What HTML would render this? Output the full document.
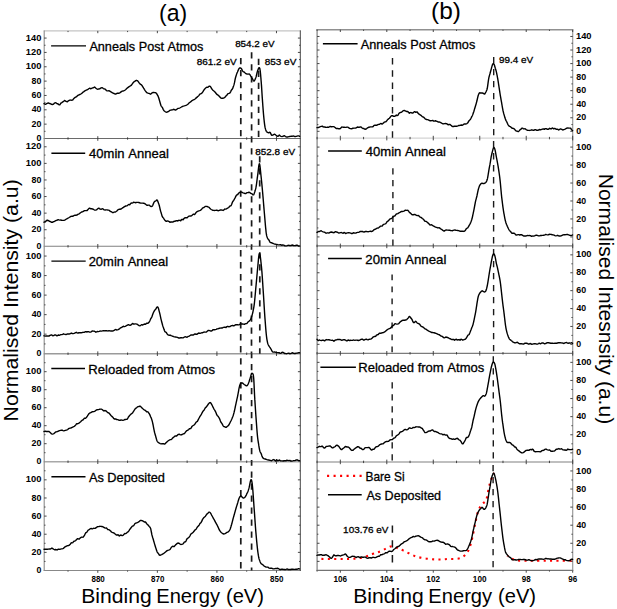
<!DOCTYPE html>
<html><head><meta charset="utf-8"><style>
html,body{margin:0;padding:0;background:#fff;}
body{width:617px;height:609px;overflow:hidden;font-family:"Liberation Sans", sans-serif;}
svg{display:block;}
</style></head><body>
<svg width="617" height="609" viewBox="0 0 617 609" font-family='"Liberation Sans", sans-serif' style="font-kerning:none"><line x1="43.7" y1="30.9" x2="300.7" y2="30.9" stroke="#c4c4c4" stroke-width="1.2" />
<line x1="43.7" y1="138.5" x2="300.7" y2="138.5" stroke="#6a6a6a" stroke-width="1.0" />
<line x1="43.7" y1="246.3" x2="300.7" y2="246.3" stroke="#808080" stroke-width="1.1" />
<line x1="43.7" y1="353.7" x2="300.7" y2="353.7" stroke="#9a9a9a" stroke-width="1.5" />
<line x1="43.7" y1="461.7" x2="300.7" y2="461.7" stroke="#a8a8a8" stroke-width="1.5" />
<line x1="43.7" y1="570.5" x2="300.7" y2="570.5" stroke="#888888" stroke-width="1.2" />
<line x1="44.2" y1="30.4" x2="44.2" y2="571" stroke="#8c8c8c" stroke-width="1.1" />
<line x1="300.3" y1="30.4" x2="300.3" y2="571" stroke="#3c3c3c" stroke-width="0.95" />
<line x1="316.6" y1="29.7" x2="573.2" y2="29.7" stroke="#909090" stroke-width="1.4" />
<line x1="316.6" y1="138.1" x2="573.2" y2="138.1" stroke="#c8c8c8" stroke-width="1.0" />
<line x1="316.6" y1="245.9" x2="573.2" y2="245.9" stroke="#7a7a7a" stroke-width="1.2" />
<line x1="316.6" y1="353.3" x2="573.2" y2="353.3" stroke="#5a5a5a" stroke-width="1.0" />
<line x1="316.6" y1="461.9" x2="573.2" y2="461.9" stroke="#aaaaaa" stroke-width="1.5" />
<line x1="316.6" y1="570.4" x2="573.2" y2="570.4" stroke="#737373" stroke-width="1.1" />
<line x1="317.1" y1="29.1" x2="317.1" y2="570.9" stroke="#888888" stroke-width="1.3" />
<line x1="572.7" y1="29.1" x2="572.7" y2="570.9" stroke="#999999" stroke-width="1.2" />
<line x1="44.2" y1="131.33" x2="45.5" y2="131.33" stroke="#333" stroke-width="0.9" />
<line x1="300.3" y1="131.33" x2="299" y2="131.33" stroke="#333" stroke-width="0.9" />
<line x1="44.2" y1="124.15" x2="46.6" y2="124.15" stroke="#333" stroke-width="0.9" />
<line x1="300.3" y1="124.15" x2="297.9" y2="124.15" stroke="#333" stroke-width="0.9" />
<line x1="44.2" y1="116.98" x2="45.5" y2="116.98" stroke="#333" stroke-width="0.9" />
<line x1="300.3" y1="116.98" x2="299" y2="116.98" stroke="#333" stroke-width="0.9" />
<line x1="44.2" y1="109.81" x2="46.6" y2="109.81" stroke="#333" stroke-width="0.9" />
<line x1="300.3" y1="109.81" x2="297.9" y2="109.81" stroke="#333" stroke-width="0.9" />
<line x1="44.2" y1="102.63" x2="45.5" y2="102.63" stroke="#333" stroke-width="0.9" />
<line x1="300.3" y1="102.63" x2="299" y2="102.63" stroke="#333" stroke-width="0.9" />
<line x1="44.2" y1="95.46" x2="46.6" y2="95.46" stroke="#333" stroke-width="0.9" />
<line x1="300.3" y1="95.46" x2="297.9" y2="95.46" stroke="#333" stroke-width="0.9" />
<line x1="44.2" y1="88.29" x2="45.5" y2="88.29" stroke="#333" stroke-width="0.9" />
<line x1="300.3" y1="88.29" x2="299" y2="88.29" stroke="#333" stroke-width="0.9" />
<line x1="44.2" y1="81.11" x2="46.6" y2="81.11" stroke="#333" stroke-width="0.9" />
<line x1="300.3" y1="81.11" x2="297.9" y2="81.11" stroke="#333" stroke-width="0.9" />
<line x1="44.2" y1="73.94" x2="45.5" y2="73.94" stroke="#333" stroke-width="0.9" />
<line x1="300.3" y1="73.94" x2="299" y2="73.94" stroke="#333" stroke-width="0.9" />
<line x1="44.2" y1="66.77" x2="46.6" y2="66.77" stroke="#333" stroke-width="0.9" />
<line x1="300.3" y1="66.77" x2="297.9" y2="66.77" stroke="#333" stroke-width="0.9" />
<line x1="44.2" y1="59.59" x2="45.5" y2="59.59" stroke="#333" stroke-width="0.9" />
<line x1="300.3" y1="59.59" x2="299" y2="59.59" stroke="#333" stroke-width="0.9" />
<line x1="44.2" y1="52.42" x2="46.6" y2="52.42" stroke="#333" stroke-width="0.9" />
<line x1="300.3" y1="52.42" x2="297.9" y2="52.42" stroke="#333" stroke-width="0.9" />
<line x1="44.2" y1="45.25" x2="45.5" y2="45.25" stroke="#333" stroke-width="0.9" />
<line x1="300.3" y1="45.25" x2="299" y2="45.25" stroke="#333" stroke-width="0.9" />
<line x1="44.2" y1="38.07" x2="46.6" y2="38.07" stroke="#333" stroke-width="0.9" />
<line x1="300.3" y1="38.07" x2="297.9" y2="38.07" stroke="#333" stroke-width="0.9" />
<text x="36.45" y="141.1" font-size="9.2" font-weight="bold" fill="#000" textLength="4.91" lengthAdjust="spacingAndGlyphs" >0</text>
<text x="31.49" y="126.75" font-size="9.2" font-weight="bold" fill="#000" textLength="9.87" lengthAdjust="spacingAndGlyphs" >20</text>
<text x="31.67" y="112.41" font-size="9.2" font-weight="bold" fill="#000" textLength="9.69" lengthAdjust="spacingAndGlyphs" >40</text>
<text x="31.47" y="98.06" font-size="9.2" font-weight="bold" fill="#000" textLength="9.89" lengthAdjust="spacingAndGlyphs" >60</text>
<text x="31.52" y="83.71" font-size="9.2" font-weight="bold" fill="#000" textLength="9.84" lengthAdjust="spacingAndGlyphs" >80</text>
<text x="25.81" y="69.37" font-size="9.2" font-weight="bold" fill="#000" textLength="15.57" lengthAdjust="spacingAndGlyphs" >100</text>
<text x="25.81" y="55.02" font-size="9.2" font-weight="bold" fill="#000" textLength="15.57" lengthAdjust="spacingAndGlyphs" >120</text>
<text x="25.81" y="40.67" font-size="9.2" font-weight="bold" fill="#000" textLength="15.57" lengthAdjust="spacingAndGlyphs" >140</text>
<line x1="44.2" y1="238.01" x2="45.5" y2="238.01" stroke="#333" stroke-width="0.9" />
<line x1="300.3" y1="238.01" x2="299" y2="238.01" stroke="#333" stroke-width="0.9" />
<line x1="44.2" y1="229.72" x2="46.6" y2="229.72" stroke="#333" stroke-width="0.9" />
<line x1="300.3" y1="229.72" x2="297.9" y2="229.72" stroke="#333" stroke-width="0.9" />
<line x1="44.2" y1="221.42" x2="45.5" y2="221.42" stroke="#333" stroke-width="0.9" />
<line x1="300.3" y1="221.42" x2="299" y2="221.42" stroke="#333" stroke-width="0.9" />
<line x1="44.2" y1="213.13" x2="46.6" y2="213.13" stroke="#333" stroke-width="0.9" />
<line x1="300.3" y1="213.13" x2="297.9" y2="213.13" stroke="#333" stroke-width="0.9" />
<line x1="44.2" y1="204.84" x2="45.5" y2="204.84" stroke="#333" stroke-width="0.9" />
<line x1="300.3" y1="204.84" x2="299" y2="204.84" stroke="#333" stroke-width="0.9" />
<line x1="44.2" y1="196.55" x2="46.6" y2="196.55" stroke="#333" stroke-width="0.9" />
<line x1="300.3" y1="196.55" x2="297.9" y2="196.55" stroke="#333" stroke-width="0.9" />
<line x1="44.2" y1="188.25" x2="45.5" y2="188.25" stroke="#333" stroke-width="0.9" />
<line x1="300.3" y1="188.25" x2="299" y2="188.25" stroke="#333" stroke-width="0.9" />
<line x1="44.2" y1="179.96" x2="46.6" y2="179.96" stroke="#333" stroke-width="0.9" />
<line x1="300.3" y1="179.96" x2="297.9" y2="179.96" stroke="#333" stroke-width="0.9" />
<line x1="44.2" y1="171.67" x2="45.5" y2="171.67" stroke="#333" stroke-width="0.9" />
<line x1="300.3" y1="171.67" x2="299" y2="171.67" stroke="#333" stroke-width="0.9" />
<line x1="44.2" y1="163.38" x2="46.6" y2="163.38" stroke="#333" stroke-width="0.9" />
<line x1="300.3" y1="163.38" x2="297.9" y2="163.38" stroke="#333" stroke-width="0.9" />
<line x1="44.2" y1="155.08" x2="45.5" y2="155.08" stroke="#333" stroke-width="0.9" />
<line x1="300.3" y1="155.08" x2="299" y2="155.08" stroke="#333" stroke-width="0.9" />
<line x1="44.2" y1="146.79" x2="46.6" y2="146.79" stroke="#333" stroke-width="0.9" />
<line x1="300.3" y1="146.79" x2="297.9" y2="146.79" stroke="#333" stroke-width="0.9" />
<text x="36.45" y="248.9" font-size="9.2" font-weight="bold" fill="#000" textLength="4.91" lengthAdjust="spacingAndGlyphs" >0</text>
<text x="31.49" y="232.32" font-size="9.2" font-weight="bold" fill="#000" textLength="9.87" lengthAdjust="spacingAndGlyphs" >20</text>
<text x="31.67" y="215.73" font-size="9.2" font-weight="bold" fill="#000" textLength="9.69" lengthAdjust="spacingAndGlyphs" >40</text>
<text x="31.47" y="199.15" font-size="9.2" font-weight="bold" fill="#000" textLength="9.89" lengthAdjust="spacingAndGlyphs" >60</text>
<text x="31.52" y="182.56" font-size="9.2" font-weight="bold" fill="#000" textLength="9.84" lengthAdjust="spacingAndGlyphs" >80</text>
<text x="25.81" y="165.98" font-size="9.2" font-weight="bold" fill="#000" textLength="15.57" lengthAdjust="spacingAndGlyphs" >100</text>
<text x="25.81" y="149.39" font-size="9.2" font-weight="bold" fill="#000" textLength="15.57" lengthAdjust="spacingAndGlyphs" >120</text>
<line x1="44.2" y1="343.94" x2="45.5" y2="343.94" stroke="#333" stroke-width="0.9" />
<line x1="300.3" y1="343.94" x2="299" y2="343.94" stroke="#333" stroke-width="0.9" />
<line x1="44.2" y1="334.17" x2="46.6" y2="334.17" stroke="#333" stroke-width="0.9" />
<line x1="300.3" y1="334.17" x2="297.9" y2="334.17" stroke="#333" stroke-width="0.9" />
<line x1="44.2" y1="324.41" x2="45.5" y2="324.41" stroke="#333" stroke-width="0.9" />
<line x1="300.3" y1="324.41" x2="299" y2="324.41" stroke="#333" stroke-width="0.9" />
<line x1="44.2" y1="314.65" x2="46.6" y2="314.65" stroke="#333" stroke-width="0.9" />
<line x1="300.3" y1="314.65" x2="297.9" y2="314.65" stroke="#333" stroke-width="0.9" />
<line x1="44.2" y1="304.88" x2="45.5" y2="304.88" stroke="#333" stroke-width="0.9" />
<line x1="300.3" y1="304.88" x2="299" y2="304.88" stroke="#333" stroke-width="0.9" />
<line x1="44.2" y1="295.12" x2="46.6" y2="295.12" stroke="#333" stroke-width="0.9" />
<line x1="300.3" y1="295.12" x2="297.9" y2="295.12" stroke="#333" stroke-width="0.9" />
<line x1="44.2" y1="285.35" x2="45.5" y2="285.35" stroke="#333" stroke-width="0.9" />
<line x1="300.3" y1="285.35" x2="299" y2="285.35" stroke="#333" stroke-width="0.9" />
<line x1="44.2" y1="275.59" x2="46.6" y2="275.59" stroke="#333" stroke-width="0.9" />
<line x1="300.3" y1="275.59" x2="297.9" y2="275.59" stroke="#333" stroke-width="0.9" />
<line x1="44.2" y1="265.83" x2="45.5" y2="265.83" stroke="#333" stroke-width="0.9" />
<line x1="300.3" y1="265.83" x2="299" y2="265.83" stroke="#333" stroke-width="0.9" />
<line x1="44.2" y1="256.06" x2="46.6" y2="256.06" stroke="#333" stroke-width="0.9" />
<line x1="300.3" y1="256.06" x2="297.9" y2="256.06" stroke="#333" stroke-width="0.9" />
<text x="36.45" y="356.3" font-size="9.2" font-weight="bold" fill="#000" textLength="4.91" lengthAdjust="spacingAndGlyphs" >0</text>
<text x="31.49" y="336.77" font-size="9.2" font-weight="bold" fill="#000" textLength="9.87" lengthAdjust="spacingAndGlyphs" >20</text>
<text x="31.67" y="317.25" font-size="9.2" font-weight="bold" fill="#000" textLength="9.69" lengthAdjust="spacingAndGlyphs" >40</text>
<text x="31.47" y="297.72" font-size="9.2" font-weight="bold" fill="#000" textLength="9.89" lengthAdjust="spacingAndGlyphs" >60</text>
<text x="31.52" y="278.19" font-size="9.2" font-weight="bold" fill="#000" textLength="9.84" lengthAdjust="spacingAndGlyphs" >80</text>
<text x="25.81" y="258.66" font-size="9.2" font-weight="bold" fill="#000" textLength="15.57" lengthAdjust="spacingAndGlyphs" >100</text>
<line x1="44.2" y1="452.7" x2="45.5" y2="452.7" stroke="#333" stroke-width="0.9" />
<line x1="300.3" y1="452.7" x2="299" y2="452.7" stroke="#333" stroke-width="0.9" />
<line x1="44.2" y1="443.7" x2="46.6" y2="443.7" stroke="#333" stroke-width="0.9" />
<line x1="300.3" y1="443.7" x2="297.9" y2="443.7" stroke="#333" stroke-width="0.9" />
<line x1="44.2" y1="434.7" x2="45.5" y2="434.7" stroke="#333" stroke-width="0.9" />
<line x1="300.3" y1="434.7" x2="299" y2="434.7" stroke="#333" stroke-width="0.9" />
<line x1="44.2" y1="425.7" x2="46.6" y2="425.7" stroke="#333" stroke-width="0.9" />
<line x1="300.3" y1="425.7" x2="297.9" y2="425.7" stroke="#333" stroke-width="0.9" />
<line x1="44.2" y1="416.7" x2="45.5" y2="416.7" stroke="#333" stroke-width="0.9" />
<line x1="300.3" y1="416.7" x2="299" y2="416.7" stroke="#333" stroke-width="0.9" />
<line x1="44.2" y1="407.7" x2="46.6" y2="407.7" stroke="#333" stroke-width="0.9" />
<line x1="300.3" y1="407.7" x2="297.9" y2="407.7" stroke="#333" stroke-width="0.9" />
<line x1="44.2" y1="398.7" x2="45.5" y2="398.7" stroke="#333" stroke-width="0.9" />
<line x1="300.3" y1="398.7" x2="299" y2="398.7" stroke="#333" stroke-width="0.9" />
<line x1="44.2" y1="389.7" x2="46.6" y2="389.7" stroke="#333" stroke-width="0.9" />
<line x1="300.3" y1="389.7" x2="297.9" y2="389.7" stroke="#333" stroke-width="0.9" />
<line x1="44.2" y1="380.7" x2="45.5" y2="380.7" stroke="#333" stroke-width="0.9" />
<line x1="300.3" y1="380.7" x2="299" y2="380.7" stroke="#333" stroke-width="0.9" />
<line x1="44.2" y1="371.7" x2="46.6" y2="371.7" stroke="#333" stroke-width="0.9" />
<line x1="300.3" y1="371.7" x2="297.9" y2="371.7" stroke="#333" stroke-width="0.9" />
<line x1="44.2" y1="362.7" x2="45.5" y2="362.7" stroke="#333" stroke-width="0.9" />
<line x1="300.3" y1="362.7" x2="299" y2="362.7" stroke="#333" stroke-width="0.9" />
<text x="36.45" y="464.3" font-size="9.2" font-weight="bold" fill="#000" textLength="4.91" lengthAdjust="spacingAndGlyphs" >0</text>
<text x="31.49" y="446.3" font-size="9.2" font-weight="bold" fill="#000" textLength="9.87" lengthAdjust="spacingAndGlyphs" >20</text>
<text x="31.67" y="428.3" font-size="9.2" font-weight="bold" fill="#000" textLength="9.69" lengthAdjust="spacingAndGlyphs" >40</text>
<text x="31.47" y="410.3" font-size="9.2" font-weight="bold" fill="#000" textLength="9.89" lengthAdjust="spacingAndGlyphs" >60</text>
<text x="31.52" y="392.3" font-size="9.2" font-weight="bold" fill="#000" textLength="9.84" lengthAdjust="spacingAndGlyphs" >80</text>
<text x="25.81" y="374.3" font-size="9.2" font-weight="bold" fill="#000" textLength="15.57" lengthAdjust="spacingAndGlyphs" >100</text>
<line x1="44.2" y1="561.43" x2="45.5" y2="561.43" stroke="#333" stroke-width="0.9" />
<line x1="300.3" y1="561.43" x2="299" y2="561.43" stroke="#333" stroke-width="0.9" />
<line x1="44.2" y1="552.37" x2="46.6" y2="552.37" stroke="#333" stroke-width="0.9" />
<line x1="300.3" y1="552.37" x2="297.9" y2="552.37" stroke="#333" stroke-width="0.9" />
<line x1="44.2" y1="543.3" x2="45.5" y2="543.3" stroke="#333" stroke-width="0.9" />
<line x1="300.3" y1="543.3" x2="299" y2="543.3" stroke="#333" stroke-width="0.9" />
<line x1="44.2" y1="534.23" x2="46.6" y2="534.23" stroke="#333" stroke-width="0.9" />
<line x1="300.3" y1="534.23" x2="297.9" y2="534.23" stroke="#333" stroke-width="0.9" />
<line x1="44.2" y1="525.17" x2="45.5" y2="525.17" stroke="#333" stroke-width="0.9" />
<line x1="300.3" y1="525.17" x2="299" y2="525.17" stroke="#333" stroke-width="0.9" />
<line x1="44.2" y1="516.1" x2="46.6" y2="516.1" stroke="#333" stroke-width="0.9" />
<line x1="300.3" y1="516.1" x2="297.9" y2="516.1" stroke="#333" stroke-width="0.9" />
<line x1="44.2" y1="507.03" x2="45.5" y2="507.03" stroke="#333" stroke-width="0.9" />
<line x1="300.3" y1="507.03" x2="299" y2="507.03" stroke="#333" stroke-width="0.9" />
<line x1="44.2" y1="497.97" x2="46.6" y2="497.97" stroke="#333" stroke-width="0.9" />
<line x1="300.3" y1="497.97" x2="297.9" y2="497.97" stroke="#333" stroke-width="0.9" />
<line x1="44.2" y1="488.9" x2="45.5" y2="488.9" stroke="#333" stroke-width="0.9" />
<line x1="300.3" y1="488.9" x2="299" y2="488.9" stroke="#333" stroke-width="0.9" />
<line x1="44.2" y1="479.83" x2="46.6" y2="479.83" stroke="#333" stroke-width="0.9" />
<line x1="300.3" y1="479.83" x2="297.9" y2="479.83" stroke="#333" stroke-width="0.9" />
<line x1="44.2" y1="470.77" x2="45.5" y2="470.77" stroke="#333" stroke-width="0.9" />
<line x1="300.3" y1="470.77" x2="299" y2="470.77" stroke="#333" stroke-width="0.9" />
<text x="36.45" y="573.1" font-size="9.2" font-weight="bold" fill="#000" textLength="4.91" lengthAdjust="spacingAndGlyphs" >0</text>
<text x="31.49" y="554.97" font-size="9.2" font-weight="bold" fill="#000" textLength="9.87" lengthAdjust="spacingAndGlyphs" >20</text>
<text x="31.67" y="536.83" font-size="9.2" font-weight="bold" fill="#000" textLength="9.69" lengthAdjust="spacingAndGlyphs" >40</text>
<text x="31.47" y="518.7" font-size="9.2" font-weight="bold" fill="#000" textLength="9.89" lengthAdjust="spacingAndGlyphs" >60</text>
<text x="31.52" y="500.57" font-size="9.2" font-weight="bold" fill="#000" textLength="9.84" lengthAdjust="spacingAndGlyphs" >80</text>
<text x="25.81" y="482.43" font-size="9.2" font-weight="bold" fill="#000" textLength="15.57" lengthAdjust="spacingAndGlyphs" >100</text>
<line x1="317.1" y1="131.32" x2="319.5" y2="131.32" stroke="#333" stroke-width="0.9" />
<line x1="572.7" y1="131.32" x2="570.3" y2="131.32" stroke="#333" stroke-width="0.9" />
<line x1="317.1" y1="124.55" x2="318.4" y2="124.55" stroke="#333" stroke-width="0.9" />
<line x1="572.7" y1="124.55" x2="571.4" y2="124.55" stroke="#333" stroke-width="0.9" />
<line x1="317.1" y1="117.78" x2="319.5" y2="117.78" stroke="#333" stroke-width="0.9" />
<line x1="572.7" y1="117.78" x2="570.3" y2="117.78" stroke="#333" stroke-width="0.9" />
<line x1="317.1" y1="111" x2="318.4" y2="111" stroke="#333" stroke-width="0.9" />
<line x1="572.7" y1="111" x2="571.4" y2="111" stroke="#333" stroke-width="0.9" />
<line x1="317.1" y1="104.22" x2="319.5" y2="104.22" stroke="#333" stroke-width="0.9" />
<line x1="572.7" y1="104.22" x2="570.3" y2="104.22" stroke="#333" stroke-width="0.9" />
<line x1="317.1" y1="97.45" x2="318.4" y2="97.45" stroke="#333" stroke-width="0.9" />
<line x1="572.7" y1="97.45" x2="571.4" y2="97.45" stroke="#333" stroke-width="0.9" />
<line x1="317.1" y1="90.67" x2="319.5" y2="90.67" stroke="#333" stroke-width="0.9" />
<line x1="572.7" y1="90.67" x2="570.3" y2="90.67" stroke="#333" stroke-width="0.9" />
<line x1="317.1" y1="83.9" x2="318.4" y2="83.9" stroke="#333" stroke-width="0.9" />
<line x1="572.7" y1="83.9" x2="571.4" y2="83.9" stroke="#333" stroke-width="0.9" />
<line x1="317.1" y1="77.12" x2="319.5" y2="77.12" stroke="#333" stroke-width="0.9" />
<line x1="572.7" y1="77.12" x2="570.3" y2="77.12" stroke="#333" stroke-width="0.9" />
<line x1="317.1" y1="70.35" x2="318.4" y2="70.35" stroke="#333" stroke-width="0.9" />
<line x1="572.7" y1="70.35" x2="571.4" y2="70.35" stroke="#333" stroke-width="0.9" />
<line x1="317.1" y1="63.58" x2="319.5" y2="63.58" stroke="#333" stroke-width="0.9" />
<line x1="572.7" y1="63.58" x2="570.3" y2="63.58" stroke="#333" stroke-width="0.9" />
<line x1="317.1" y1="56.8" x2="318.4" y2="56.8" stroke="#333" stroke-width="0.9" />
<line x1="572.7" y1="56.8" x2="571.4" y2="56.8" stroke="#333" stroke-width="0.9" />
<line x1="317.1" y1="50.03" x2="319.5" y2="50.03" stroke="#333" stroke-width="0.9" />
<line x1="572.7" y1="50.03" x2="570.3" y2="50.03" stroke="#333" stroke-width="0.9" />
<line x1="317.1" y1="43.25" x2="318.4" y2="43.25" stroke="#333" stroke-width="0.9" />
<line x1="572.7" y1="43.25" x2="571.4" y2="43.25" stroke="#333" stroke-width="0.9" />
<line x1="317.1" y1="36.48" x2="319.5" y2="36.48" stroke="#333" stroke-width="0.9" />
<line x1="572.7" y1="36.48" x2="570.3" y2="36.48" stroke="#333" stroke-width="0.9" />
<text x="576.25" y="133.92" font-size="9.2" font-weight="bold" fill="#000" textLength="4.91" lengthAdjust="spacingAndGlyphs" >0</text>
<text x="576.29" y="120.38" font-size="9.2" font-weight="bold" fill="#000" textLength="9.87" lengthAdjust="spacingAndGlyphs" >20</text>
<text x="576.47" y="106.82" font-size="9.2" font-weight="bold" fill="#000" textLength="9.69" lengthAdjust="spacingAndGlyphs" >40</text>
<text x="576.27" y="93.27" font-size="9.2" font-weight="bold" fill="#000" textLength="9.89" lengthAdjust="spacingAndGlyphs" >60</text>
<text x="576.32" y="79.72" font-size="9.2" font-weight="bold" fill="#000" textLength="9.84" lengthAdjust="spacingAndGlyphs" >80</text>
<text x="576.01" y="66.17" font-size="9.2" font-weight="bold" fill="#000" textLength="15.57" lengthAdjust="spacingAndGlyphs" >100</text>
<text x="576.01" y="52.63" font-size="9.2" font-weight="bold" fill="#000" textLength="15.57" lengthAdjust="spacingAndGlyphs" >120</text>
<text x="576.01" y="39.08" font-size="9.2" font-weight="bold" fill="#000" textLength="15.57" lengthAdjust="spacingAndGlyphs" >140</text>
<line x1="317.1" y1="236.92" x2="319.5" y2="236.92" stroke="#333" stroke-width="0.9" />
<line x1="572.7" y1="236.92" x2="570.3" y2="236.92" stroke="#333" stroke-width="0.9" />
<line x1="317.1" y1="227.93" x2="318.4" y2="227.93" stroke="#333" stroke-width="0.9" />
<line x1="572.7" y1="227.93" x2="571.4" y2="227.93" stroke="#333" stroke-width="0.9" />
<line x1="317.1" y1="218.95" x2="319.5" y2="218.95" stroke="#333" stroke-width="0.9" />
<line x1="572.7" y1="218.95" x2="570.3" y2="218.95" stroke="#333" stroke-width="0.9" />
<line x1="317.1" y1="209.97" x2="318.4" y2="209.97" stroke="#333" stroke-width="0.9" />
<line x1="572.7" y1="209.97" x2="571.4" y2="209.97" stroke="#333" stroke-width="0.9" />
<line x1="317.1" y1="200.98" x2="319.5" y2="200.98" stroke="#333" stroke-width="0.9" />
<line x1="572.7" y1="200.98" x2="570.3" y2="200.98" stroke="#333" stroke-width="0.9" />
<line x1="317.1" y1="192" x2="318.4" y2="192" stroke="#333" stroke-width="0.9" />
<line x1="572.7" y1="192" x2="571.4" y2="192" stroke="#333" stroke-width="0.9" />
<line x1="317.1" y1="183.02" x2="319.5" y2="183.02" stroke="#333" stroke-width="0.9" />
<line x1="572.7" y1="183.02" x2="570.3" y2="183.02" stroke="#333" stroke-width="0.9" />
<line x1="317.1" y1="174.03" x2="318.4" y2="174.03" stroke="#333" stroke-width="0.9" />
<line x1="572.7" y1="174.03" x2="571.4" y2="174.03" stroke="#333" stroke-width="0.9" />
<line x1="317.1" y1="165.05" x2="319.5" y2="165.05" stroke="#333" stroke-width="0.9" />
<line x1="572.7" y1="165.05" x2="570.3" y2="165.05" stroke="#333" stroke-width="0.9" />
<line x1="317.1" y1="156.07" x2="318.4" y2="156.07" stroke="#333" stroke-width="0.9" />
<line x1="572.7" y1="156.07" x2="571.4" y2="156.07" stroke="#333" stroke-width="0.9" />
<line x1="317.1" y1="147.08" x2="319.5" y2="147.08" stroke="#333" stroke-width="0.9" />
<line x1="572.7" y1="147.08" x2="570.3" y2="147.08" stroke="#333" stroke-width="0.9" />
<text x="576.25" y="239.52" font-size="9.2" font-weight="bold" fill="#000" textLength="4.91" lengthAdjust="spacingAndGlyphs" >0</text>
<text x="576.29" y="221.55" font-size="9.2" font-weight="bold" fill="#000" textLength="9.87" lengthAdjust="spacingAndGlyphs" >20</text>
<text x="576.47" y="203.58" font-size="9.2" font-weight="bold" fill="#000" textLength="9.69" lengthAdjust="spacingAndGlyphs" >40</text>
<text x="576.27" y="185.62" font-size="9.2" font-weight="bold" fill="#000" textLength="9.89" lengthAdjust="spacingAndGlyphs" >60</text>
<text x="576.32" y="167.65" font-size="9.2" font-weight="bold" fill="#000" textLength="9.84" lengthAdjust="spacingAndGlyphs" >80</text>
<text x="576.01" y="149.68" font-size="9.2" font-weight="bold" fill="#000" textLength="15.57" lengthAdjust="spacingAndGlyphs" >100</text>
<line x1="317.1" y1="344.35" x2="319.5" y2="344.35" stroke="#333" stroke-width="0.9" />
<line x1="572.7" y1="344.35" x2="570.3" y2="344.35" stroke="#333" stroke-width="0.9" />
<line x1="317.1" y1="335.4" x2="318.4" y2="335.4" stroke="#333" stroke-width="0.9" />
<line x1="572.7" y1="335.4" x2="571.4" y2="335.4" stroke="#333" stroke-width="0.9" />
<line x1="317.1" y1="326.45" x2="319.5" y2="326.45" stroke="#333" stroke-width="0.9" />
<line x1="572.7" y1="326.45" x2="570.3" y2="326.45" stroke="#333" stroke-width="0.9" />
<line x1="317.1" y1="317.5" x2="318.4" y2="317.5" stroke="#333" stroke-width="0.9" />
<line x1="572.7" y1="317.5" x2="571.4" y2="317.5" stroke="#333" stroke-width="0.9" />
<line x1="317.1" y1="308.55" x2="319.5" y2="308.55" stroke="#333" stroke-width="0.9" />
<line x1="572.7" y1="308.55" x2="570.3" y2="308.55" stroke="#333" stroke-width="0.9" />
<line x1="317.1" y1="299.6" x2="318.4" y2="299.6" stroke="#333" stroke-width="0.9" />
<line x1="572.7" y1="299.6" x2="571.4" y2="299.6" stroke="#333" stroke-width="0.9" />
<line x1="317.1" y1="290.65" x2="319.5" y2="290.65" stroke="#333" stroke-width="0.9" />
<line x1="572.7" y1="290.65" x2="570.3" y2="290.65" stroke="#333" stroke-width="0.9" />
<line x1="317.1" y1="281.7" x2="318.4" y2="281.7" stroke="#333" stroke-width="0.9" />
<line x1="572.7" y1="281.7" x2="571.4" y2="281.7" stroke="#333" stroke-width="0.9" />
<line x1="317.1" y1="272.75" x2="319.5" y2="272.75" stroke="#333" stroke-width="0.9" />
<line x1="572.7" y1="272.75" x2="570.3" y2="272.75" stroke="#333" stroke-width="0.9" />
<line x1="317.1" y1="263.8" x2="318.4" y2="263.8" stroke="#333" stroke-width="0.9" />
<line x1="572.7" y1="263.8" x2="571.4" y2="263.8" stroke="#333" stroke-width="0.9" />
<line x1="317.1" y1="254.85" x2="319.5" y2="254.85" stroke="#333" stroke-width="0.9" />
<line x1="572.7" y1="254.85" x2="570.3" y2="254.85" stroke="#333" stroke-width="0.9" />
<text x="576.25" y="346.95" font-size="9.2" font-weight="bold" fill="#000" textLength="4.91" lengthAdjust="spacingAndGlyphs" >0</text>
<text x="576.29" y="329.05" font-size="9.2" font-weight="bold" fill="#000" textLength="9.87" lengthAdjust="spacingAndGlyphs" >20</text>
<text x="576.47" y="311.15" font-size="9.2" font-weight="bold" fill="#000" textLength="9.69" lengthAdjust="spacingAndGlyphs" >40</text>
<text x="576.27" y="293.25" font-size="9.2" font-weight="bold" fill="#000" textLength="9.89" lengthAdjust="spacingAndGlyphs" >60</text>
<text x="576.32" y="275.35" font-size="9.2" font-weight="bold" fill="#000" textLength="9.84" lengthAdjust="spacingAndGlyphs" >80</text>
<text x="576.01" y="257.45" font-size="9.2" font-weight="bold" fill="#000" textLength="15.57" lengthAdjust="spacingAndGlyphs" >100</text>
<line x1="317.1" y1="452.85" x2="319.5" y2="452.85" stroke="#333" stroke-width="0.9" />
<line x1="572.7" y1="452.85" x2="570.3" y2="452.85" stroke="#333" stroke-width="0.9" />
<line x1="317.1" y1="443.8" x2="318.4" y2="443.8" stroke="#333" stroke-width="0.9" />
<line x1="572.7" y1="443.8" x2="571.4" y2="443.8" stroke="#333" stroke-width="0.9" />
<line x1="317.1" y1="434.75" x2="319.5" y2="434.75" stroke="#333" stroke-width="0.9" />
<line x1="572.7" y1="434.75" x2="570.3" y2="434.75" stroke="#333" stroke-width="0.9" />
<line x1="317.1" y1="425.7" x2="318.4" y2="425.7" stroke="#333" stroke-width="0.9" />
<line x1="572.7" y1="425.7" x2="571.4" y2="425.7" stroke="#333" stroke-width="0.9" />
<line x1="317.1" y1="416.65" x2="319.5" y2="416.65" stroke="#333" stroke-width="0.9" />
<line x1="572.7" y1="416.65" x2="570.3" y2="416.65" stroke="#333" stroke-width="0.9" />
<line x1="317.1" y1="407.6" x2="318.4" y2="407.6" stroke="#333" stroke-width="0.9" />
<line x1="572.7" y1="407.6" x2="571.4" y2="407.6" stroke="#333" stroke-width="0.9" />
<line x1="317.1" y1="398.55" x2="319.5" y2="398.55" stroke="#333" stroke-width="0.9" />
<line x1="572.7" y1="398.55" x2="570.3" y2="398.55" stroke="#333" stroke-width="0.9" />
<line x1="317.1" y1="389.5" x2="318.4" y2="389.5" stroke="#333" stroke-width="0.9" />
<line x1="572.7" y1="389.5" x2="571.4" y2="389.5" stroke="#333" stroke-width="0.9" />
<line x1="317.1" y1="380.45" x2="319.5" y2="380.45" stroke="#333" stroke-width="0.9" />
<line x1="572.7" y1="380.45" x2="570.3" y2="380.45" stroke="#333" stroke-width="0.9" />
<line x1="317.1" y1="371.4" x2="318.4" y2="371.4" stroke="#333" stroke-width="0.9" />
<line x1="572.7" y1="371.4" x2="571.4" y2="371.4" stroke="#333" stroke-width="0.9" />
<line x1="317.1" y1="362.35" x2="319.5" y2="362.35" stroke="#333" stroke-width="0.9" />
<line x1="572.7" y1="362.35" x2="570.3" y2="362.35" stroke="#333" stroke-width="0.9" />
<text x="576.25" y="455.45" font-size="9.2" font-weight="bold" fill="#000" textLength="4.91" lengthAdjust="spacingAndGlyphs" >0</text>
<text x="576.29" y="437.35" font-size="9.2" font-weight="bold" fill="#000" textLength="9.87" lengthAdjust="spacingAndGlyphs" >20</text>
<text x="576.47" y="419.25" font-size="9.2" font-weight="bold" fill="#000" textLength="9.69" lengthAdjust="spacingAndGlyphs" >40</text>
<text x="576.27" y="401.15" font-size="9.2" font-weight="bold" fill="#000" textLength="9.89" lengthAdjust="spacingAndGlyphs" >60</text>
<text x="576.32" y="383.05" font-size="9.2" font-weight="bold" fill="#000" textLength="9.84" lengthAdjust="spacingAndGlyphs" >80</text>
<text x="576.01" y="364.95" font-size="9.2" font-weight="bold" fill="#000" textLength="15.57" lengthAdjust="spacingAndGlyphs" >100</text>
<line x1="317.1" y1="561.36" x2="319.5" y2="561.36" stroke="#333" stroke-width="0.9" />
<line x1="572.7" y1="561.36" x2="570.3" y2="561.36" stroke="#333" stroke-width="0.9" />
<line x1="317.1" y1="552.32" x2="318.4" y2="552.32" stroke="#333" stroke-width="0.9" />
<line x1="572.7" y1="552.32" x2="571.4" y2="552.32" stroke="#333" stroke-width="0.9" />
<line x1="317.1" y1="543.27" x2="319.5" y2="543.27" stroke="#333" stroke-width="0.9" />
<line x1="572.7" y1="543.27" x2="570.3" y2="543.27" stroke="#333" stroke-width="0.9" />
<line x1="317.1" y1="534.23" x2="318.4" y2="534.23" stroke="#333" stroke-width="0.9" />
<line x1="572.7" y1="534.23" x2="571.4" y2="534.23" stroke="#333" stroke-width="0.9" />
<line x1="317.1" y1="525.19" x2="319.5" y2="525.19" stroke="#333" stroke-width="0.9" />
<line x1="572.7" y1="525.19" x2="570.3" y2="525.19" stroke="#333" stroke-width="0.9" />
<line x1="317.1" y1="516.15" x2="318.4" y2="516.15" stroke="#333" stroke-width="0.9" />
<line x1="572.7" y1="516.15" x2="571.4" y2="516.15" stroke="#333" stroke-width="0.9" />
<line x1="317.1" y1="507.11" x2="319.5" y2="507.11" stroke="#333" stroke-width="0.9" />
<line x1="572.7" y1="507.11" x2="570.3" y2="507.11" stroke="#333" stroke-width="0.9" />
<line x1="317.1" y1="498.07" x2="318.4" y2="498.07" stroke="#333" stroke-width="0.9" />
<line x1="572.7" y1="498.07" x2="571.4" y2="498.07" stroke="#333" stroke-width="0.9" />
<line x1="317.1" y1="489.02" x2="319.5" y2="489.02" stroke="#333" stroke-width="0.9" />
<line x1="572.7" y1="489.02" x2="570.3" y2="489.02" stroke="#333" stroke-width="0.9" />
<line x1="317.1" y1="479.98" x2="318.4" y2="479.98" stroke="#333" stroke-width="0.9" />
<line x1="572.7" y1="479.98" x2="571.4" y2="479.98" stroke="#333" stroke-width="0.9" />
<line x1="317.1" y1="470.94" x2="319.5" y2="470.94" stroke="#333" stroke-width="0.9" />
<line x1="572.7" y1="470.94" x2="570.3" y2="470.94" stroke="#333" stroke-width="0.9" />
<text x="576.25" y="563.96" font-size="9.2" font-weight="bold" fill="#000" textLength="4.91" lengthAdjust="spacingAndGlyphs" >0</text>
<text x="576.29" y="545.88" font-size="9.2" font-weight="bold" fill="#000" textLength="9.87" lengthAdjust="spacingAndGlyphs" >20</text>
<text x="576.47" y="527.79" font-size="9.2" font-weight="bold" fill="#000" textLength="9.69" lengthAdjust="spacingAndGlyphs" >40</text>
<text x="576.27" y="509.71" font-size="9.2" font-weight="bold" fill="#000" textLength="9.89" lengthAdjust="spacingAndGlyphs" >60</text>
<text x="576.32" y="491.62" font-size="9.2" font-weight="bold" fill="#000" textLength="9.84" lengthAdjust="spacingAndGlyphs" >80</text>
<text x="576.01" y="473.54" font-size="9.2" font-weight="bold" fill="#000" textLength="15.57" lengthAdjust="spacingAndGlyphs" >100</text>
<line x1="68.02" y1="30.9" x2="68.02" y2="32.1" stroke="#333" stroke-width="0.9" />
<line x1="68.02" y1="137.3" x2="68.02" y2="139.7" stroke="#333" stroke-width="0.9" />
<line x1="68.02" y1="245.1" x2="68.02" y2="247.5" stroke="#333" stroke-width="0.9" />
<line x1="68.02" y1="352.5" x2="68.02" y2="354.9" stroke="#333" stroke-width="0.9" />
<line x1="68.02" y1="460.5" x2="68.02" y2="462.9" stroke="#333" stroke-width="0.9" />
<line x1="68.02" y1="570.5" x2="68.02" y2="571.7" stroke="#333" stroke-width="0.9" />
<line x1="97.8" y1="30.9" x2="97.8" y2="33.2" stroke="#333" stroke-width="0.9" />
<line x1="97.8" y1="136.2" x2="97.8" y2="140.8" stroke="#333" stroke-width="0.9" />
<line x1="97.8" y1="244" x2="97.8" y2="248.6" stroke="#333" stroke-width="0.9" />
<line x1="97.8" y1="351.4" x2="97.8" y2="356" stroke="#333" stroke-width="0.9" />
<line x1="97.8" y1="459.4" x2="97.8" y2="464" stroke="#333" stroke-width="0.9" />
<line x1="97.8" y1="570.5" x2="97.8" y2="572.8" stroke="#333" stroke-width="0.9" />
<line x1="127.58" y1="30.9" x2="127.58" y2="32.1" stroke="#333" stroke-width="0.9" />
<line x1="127.58" y1="137.3" x2="127.58" y2="139.7" stroke="#333" stroke-width="0.9" />
<line x1="127.58" y1="245.1" x2="127.58" y2="247.5" stroke="#333" stroke-width="0.9" />
<line x1="127.58" y1="352.5" x2="127.58" y2="354.9" stroke="#333" stroke-width="0.9" />
<line x1="127.58" y1="460.5" x2="127.58" y2="462.9" stroke="#333" stroke-width="0.9" />
<line x1="127.58" y1="570.5" x2="127.58" y2="571.7" stroke="#333" stroke-width="0.9" />
<line x1="157.36" y1="30.9" x2="157.36" y2="33.2" stroke="#333" stroke-width="0.9" />
<line x1="157.36" y1="136.2" x2="157.36" y2="140.8" stroke="#333" stroke-width="0.9" />
<line x1="157.36" y1="244" x2="157.36" y2="248.6" stroke="#333" stroke-width="0.9" />
<line x1="157.36" y1="351.4" x2="157.36" y2="356" stroke="#333" stroke-width="0.9" />
<line x1="157.36" y1="459.4" x2="157.36" y2="464" stroke="#333" stroke-width="0.9" />
<line x1="157.36" y1="570.5" x2="157.36" y2="572.8" stroke="#333" stroke-width="0.9" />
<line x1="187.14" y1="30.9" x2="187.14" y2="32.1" stroke="#333" stroke-width="0.9" />
<line x1="187.14" y1="137.3" x2="187.14" y2="139.7" stroke="#333" stroke-width="0.9" />
<line x1="187.14" y1="245.1" x2="187.14" y2="247.5" stroke="#333" stroke-width="0.9" />
<line x1="187.14" y1="352.5" x2="187.14" y2="354.9" stroke="#333" stroke-width="0.9" />
<line x1="187.14" y1="460.5" x2="187.14" y2="462.9" stroke="#333" stroke-width="0.9" />
<line x1="187.14" y1="570.5" x2="187.14" y2="571.7" stroke="#333" stroke-width="0.9" />
<line x1="216.92" y1="30.9" x2="216.92" y2="33.2" stroke="#333" stroke-width="0.9" />
<line x1="216.92" y1="136.2" x2="216.92" y2="140.8" stroke="#333" stroke-width="0.9" />
<line x1="216.92" y1="244" x2="216.92" y2="248.6" stroke="#333" stroke-width="0.9" />
<line x1="216.92" y1="351.4" x2="216.92" y2="356" stroke="#333" stroke-width="0.9" />
<line x1="216.92" y1="459.4" x2="216.92" y2="464" stroke="#333" stroke-width="0.9" />
<line x1="216.92" y1="570.5" x2="216.92" y2="572.8" stroke="#333" stroke-width="0.9" />
<line x1="246.7" y1="30.9" x2="246.7" y2="32.1" stroke="#333" stroke-width="0.9" />
<line x1="246.7" y1="137.3" x2="246.7" y2="139.7" stroke="#333" stroke-width="0.9" />
<line x1="246.7" y1="245.1" x2="246.7" y2="247.5" stroke="#333" stroke-width="0.9" />
<line x1="246.7" y1="352.5" x2="246.7" y2="354.9" stroke="#333" stroke-width="0.9" />
<line x1="246.7" y1="460.5" x2="246.7" y2="462.9" stroke="#333" stroke-width="0.9" />
<line x1="246.7" y1="570.5" x2="246.7" y2="571.7" stroke="#333" stroke-width="0.9" />
<line x1="276.48" y1="30.9" x2="276.48" y2="33.2" stroke="#333" stroke-width="0.9" />
<line x1="276.48" y1="136.2" x2="276.48" y2="140.8" stroke="#333" stroke-width="0.9" />
<line x1="276.48" y1="244" x2="276.48" y2="248.6" stroke="#333" stroke-width="0.9" />
<line x1="276.48" y1="351.4" x2="276.48" y2="356" stroke="#333" stroke-width="0.9" />
<line x1="276.48" y1="459.4" x2="276.48" y2="464" stroke="#333" stroke-width="0.9" />
<line x1="276.48" y1="570.5" x2="276.48" y2="572.8" stroke="#333" stroke-width="0.9" />
<line x1="317.1" y1="29.7" x2="317.1" y2="30.9" stroke="#333" stroke-width="0.9" />
<line x1="317.1" y1="136.9" x2="317.1" y2="139.3" stroke="#333" stroke-width="0.9" />
<line x1="317.1" y1="244.7" x2="317.1" y2="247.1" stroke="#333" stroke-width="0.9" />
<line x1="317.1" y1="352.1" x2="317.1" y2="354.5" stroke="#333" stroke-width="0.9" />
<line x1="317.1" y1="460.7" x2="317.1" y2="463.1" stroke="#333" stroke-width="0.9" />
<line x1="317.1" y1="570.4" x2="317.1" y2="571.6" stroke="#333" stroke-width="0.9" />
<line x1="340.34" y1="29.7" x2="340.34" y2="32" stroke="#333" stroke-width="0.9" />
<line x1="340.34" y1="135.8" x2="340.34" y2="140.4" stroke="#333" stroke-width="0.9" />
<line x1="340.34" y1="243.6" x2="340.34" y2="248.2" stroke="#333" stroke-width="0.9" />
<line x1="340.34" y1="351" x2="340.34" y2="355.6" stroke="#333" stroke-width="0.9" />
<line x1="340.34" y1="459.6" x2="340.34" y2="464.2" stroke="#333" stroke-width="0.9" />
<line x1="340.34" y1="570.4" x2="340.34" y2="572.7" stroke="#333" stroke-width="0.9" />
<line x1="363.57" y1="29.7" x2="363.57" y2="30.9" stroke="#333" stroke-width="0.9" />
<line x1="363.57" y1="136.9" x2="363.57" y2="139.3" stroke="#333" stroke-width="0.9" />
<line x1="363.57" y1="244.7" x2="363.57" y2="247.1" stroke="#333" stroke-width="0.9" />
<line x1="363.57" y1="352.1" x2="363.57" y2="354.5" stroke="#333" stroke-width="0.9" />
<line x1="363.57" y1="460.7" x2="363.57" y2="463.1" stroke="#333" stroke-width="0.9" />
<line x1="363.57" y1="570.4" x2="363.57" y2="571.6" stroke="#333" stroke-width="0.9" />
<line x1="386.81" y1="29.7" x2="386.81" y2="32" stroke="#333" stroke-width="0.9" />
<line x1="386.81" y1="135.8" x2="386.81" y2="140.4" stroke="#333" stroke-width="0.9" />
<line x1="386.81" y1="243.6" x2="386.81" y2="248.2" stroke="#333" stroke-width="0.9" />
<line x1="386.81" y1="351" x2="386.81" y2="355.6" stroke="#333" stroke-width="0.9" />
<line x1="386.81" y1="459.6" x2="386.81" y2="464.2" stroke="#333" stroke-width="0.9" />
<line x1="386.81" y1="570.4" x2="386.81" y2="572.7" stroke="#333" stroke-width="0.9" />
<line x1="410.05" y1="29.7" x2="410.05" y2="30.9" stroke="#333" stroke-width="0.9" />
<line x1="410.05" y1="136.9" x2="410.05" y2="139.3" stroke="#333" stroke-width="0.9" />
<line x1="410.05" y1="244.7" x2="410.05" y2="247.1" stroke="#333" stroke-width="0.9" />
<line x1="410.05" y1="352.1" x2="410.05" y2="354.5" stroke="#333" stroke-width="0.9" />
<line x1="410.05" y1="460.7" x2="410.05" y2="463.1" stroke="#333" stroke-width="0.9" />
<line x1="410.05" y1="570.4" x2="410.05" y2="571.6" stroke="#333" stroke-width="0.9" />
<line x1="433.28" y1="29.7" x2="433.28" y2="32" stroke="#333" stroke-width="0.9" />
<line x1="433.28" y1="135.8" x2="433.28" y2="140.4" stroke="#333" stroke-width="0.9" />
<line x1="433.28" y1="243.6" x2="433.28" y2="248.2" stroke="#333" stroke-width="0.9" />
<line x1="433.28" y1="351" x2="433.28" y2="355.6" stroke="#333" stroke-width="0.9" />
<line x1="433.28" y1="459.6" x2="433.28" y2="464.2" stroke="#333" stroke-width="0.9" />
<line x1="433.28" y1="570.4" x2="433.28" y2="572.7" stroke="#333" stroke-width="0.9" />
<line x1="456.52" y1="29.7" x2="456.52" y2="30.9" stroke="#333" stroke-width="0.9" />
<line x1="456.52" y1="136.9" x2="456.52" y2="139.3" stroke="#333" stroke-width="0.9" />
<line x1="456.52" y1="244.7" x2="456.52" y2="247.1" stroke="#333" stroke-width="0.9" />
<line x1="456.52" y1="352.1" x2="456.52" y2="354.5" stroke="#333" stroke-width="0.9" />
<line x1="456.52" y1="460.7" x2="456.52" y2="463.1" stroke="#333" stroke-width="0.9" />
<line x1="456.52" y1="570.4" x2="456.52" y2="571.6" stroke="#333" stroke-width="0.9" />
<line x1="479.75" y1="29.7" x2="479.75" y2="32" stroke="#333" stroke-width="0.9" />
<line x1="479.75" y1="135.8" x2="479.75" y2="140.4" stroke="#333" stroke-width="0.9" />
<line x1="479.75" y1="243.6" x2="479.75" y2="248.2" stroke="#333" stroke-width="0.9" />
<line x1="479.75" y1="351" x2="479.75" y2="355.6" stroke="#333" stroke-width="0.9" />
<line x1="479.75" y1="459.6" x2="479.75" y2="464.2" stroke="#333" stroke-width="0.9" />
<line x1="479.75" y1="570.4" x2="479.75" y2="572.7" stroke="#333" stroke-width="0.9" />
<line x1="502.99" y1="29.7" x2="502.99" y2="30.9" stroke="#333" stroke-width="0.9" />
<line x1="502.99" y1="136.9" x2="502.99" y2="139.3" stroke="#333" stroke-width="0.9" />
<line x1="502.99" y1="244.7" x2="502.99" y2="247.1" stroke="#333" stroke-width="0.9" />
<line x1="502.99" y1="352.1" x2="502.99" y2="354.5" stroke="#333" stroke-width="0.9" />
<line x1="502.99" y1="460.7" x2="502.99" y2="463.1" stroke="#333" stroke-width="0.9" />
<line x1="502.99" y1="570.4" x2="502.99" y2="571.6" stroke="#333" stroke-width="0.9" />
<line x1="526.23" y1="29.7" x2="526.23" y2="32" stroke="#333" stroke-width="0.9" />
<line x1="526.23" y1="135.8" x2="526.23" y2="140.4" stroke="#333" stroke-width="0.9" />
<line x1="526.23" y1="243.6" x2="526.23" y2="248.2" stroke="#333" stroke-width="0.9" />
<line x1="526.23" y1="351" x2="526.23" y2="355.6" stroke="#333" stroke-width="0.9" />
<line x1="526.23" y1="459.6" x2="526.23" y2="464.2" stroke="#333" stroke-width="0.9" />
<line x1="526.23" y1="570.4" x2="526.23" y2="572.7" stroke="#333" stroke-width="0.9" />
<line x1="549.46" y1="29.7" x2="549.46" y2="30.9" stroke="#333" stroke-width="0.9" />
<line x1="549.46" y1="136.9" x2="549.46" y2="139.3" stroke="#333" stroke-width="0.9" />
<line x1="549.46" y1="244.7" x2="549.46" y2="247.1" stroke="#333" stroke-width="0.9" />
<line x1="549.46" y1="352.1" x2="549.46" y2="354.5" stroke="#333" stroke-width="0.9" />
<line x1="549.46" y1="460.7" x2="549.46" y2="463.1" stroke="#333" stroke-width="0.9" />
<line x1="549.46" y1="570.4" x2="549.46" y2="571.6" stroke="#333" stroke-width="0.9" />
<line x1="572.7" y1="29.7" x2="572.7" y2="32" stroke="#333" stroke-width="0.9" />
<line x1="572.7" y1="135.8" x2="572.7" y2="140.4" stroke="#333" stroke-width="0.9" />
<line x1="572.7" y1="243.6" x2="572.7" y2="248.2" stroke="#333" stroke-width="0.9" />
<line x1="572.7" y1="351" x2="572.7" y2="355.6" stroke="#333" stroke-width="0.9" />
<line x1="572.7" y1="459.6" x2="572.7" y2="464.2" stroke="#333" stroke-width="0.9" />
<line x1="572.7" y1="570.4" x2="572.7" y2="572.7" stroke="#333" stroke-width="0.9" />
<text x="91.45" y="581.9" font-size="8.5" font-weight="bold" fill="#000" textLength="13.38" lengthAdjust="spacingAndGlyphs" >880</text>
<text x="151.01" y="581.9" font-size="8.5" font-weight="bold" fill="#000" textLength="13.38" lengthAdjust="spacingAndGlyphs" >870</text>
<text x="210.56" y="581.9" font-size="8.5" font-weight="bold" fill="#000" textLength="13.38" lengthAdjust="spacingAndGlyphs" >860</text>
<text x="270.12" y="581.9" font-size="8.5" font-weight="bold" fill="#000" textLength="13.38" lengthAdjust="spacingAndGlyphs" >850</text>
<text x="333.42" y="581.9" font-size="8.5" font-weight="bold" fill="#000" textLength="13.61" lengthAdjust="spacingAndGlyphs" >106</text>
<text x="379.91" y="581.9" font-size="8.5" font-weight="bold" fill="#000" textLength="13.35" lengthAdjust="spacingAndGlyphs" >104</text>
<text x="426.37" y="581.9" font-size="8.5" font-weight="bold" fill="#000" textLength="13.64" lengthAdjust="spacingAndGlyphs" >102</text>
<text x="472.84" y="581.9" font-size="8.5" font-weight="bold" fill="#000" textLength="13.65" lengthAdjust="spacingAndGlyphs" >100</text>
<text x="521.75" y="581.9" font-size="8.5" font-weight="bold" fill="#000" textLength="8.93" lengthAdjust="spacingAndGlyphs" >98</text>
<text x="568.22" y="581.9" font-size="8.5" font-weight="bold" fill="#000" textLength="8.97" lengthAdjust="spacingAndGlyphs" >96</text>
<line x1="240.8" y1="57.9" x2="240.8" y2="138.5" stroke="#1a1a1a" stroke-width="1.7" stroke-dasharray="6.3 5.7" stroke-dashoffset="0"/>
<line x1="251.6" y1="52.3" x2="251.6" y2="138.5" stroke="#1a1a1a" stroke-width="1.7" stroke-dasharray="6.3 5.7" stroke-dashoffset="0"/>
<line x1="258.6" y1="58.7" x2="258.6" y2="138.5" stroke="#1a1a1a" stroke-width="1.7" stroke-dasharray="6.3 5.7" stroke-dashoffset="0"/>
<line x1="240.7" y1="142.5" x2="240.7" y2="246.3" stroke="#1a1a1a" stroke-width="1.7" stroke-dasharray="6.3 5.7" stroke-dashoffset="0"/>
<line x1="251.6" y1="138.5" x2="251.6" y2="246.3" stroke="#1a1a1a" stroke-width="1.7" stroke-dasharray="6.3 5.7" stroke-dashoffset="2.3"/>
<line x1="259.7" y1="156.3" x2="259.7" y2="246.3" stroke="#1a1a1a" stroke-width="1.7" stroke-dasharray="6.3 5.7" stroke-dashoffset="0"/>
<line x1="240.7" y1="250.1" x2="240.7" y2="353.7" stroke="#1a1a1a" stroke-width="1.7" stroke-dasharray="6.3 5.7" stroke-dashoffset="0"/>
<line x1="251.5" y1="246.3" x2="251.5" y2="353.7" stroke="#1a1a1a" stroke-width="1.7" stroke-dasharray="6.3 5.7" stroke-dashoffset="2.9"/>
<line x1="259.8" y1="252.3" x2="259.8" y2="353.7" stroke="#1a1a1a" stroke-width="1.7" stroke-dasharray="6.3 5.7" stroke-dashoffset="0"/>
<line x1="240.8" y1="358.2" x2="240.8" y2="461.7" stroke="#1a1a1a" stroke-width="1.7" stroke-dasharray="6.3 5.7" stroke-dashoffset="0"/>
<line x1="251.6" y1="353.7" x2="251.6" y2="461.7" stroke="#1a1a1a" stroke-width="1.7" stroke-dasharray="6.3 5.7" stroke-dashoffset="1.8"/>
<line x1="240.8" y1="466.1" x2="240.8" y2="570.5" stroke="#1a1a1a" stroke-width="1.7" stroke-dasharray="6.3 5.7" stroke-dashoffset="0"/>
<line x1="251.6" y1="461.7" x2="251.6" y2="570.5" stroke="#1a1a1a" stroke-width="1.7" stroke-dasharray="6.3 5.7" stroke-dashoffset="2.2"/>
<line x1="392.5" y1="58.1" x2="392.5" y2="138.1" stroke="#1a1a1a" stroke-width="1.4" stroke-dasharray="6.5 5.7" stroke-dashoffset="0"/>
<line x1="493.7" y1="57" x2="493.7" y2="138.1" stroke="#1a1a1a" stroke-width="1.4" stroke-dasharray="6.3 5.7" stroke-dashoffset="0"/>
<line x1="392.9" y1="168.2" x2="392.9" y2="245.9" stroke="#1a1a1a" stroke-width="1.4" stroke-dasharray="6.2 5.7" stroke-dashoffset="0"/>
<line x1="493.6" y1="141.1" x2="493.6" y2="245.9" stroke="#1a1a1a" stroke-width="1.4" stroke-dasharray="6.3 5.7" stroke-dashoffset="0"/>
<line x1="392.1" y1="274.4" x2="392.1" y2="353.3" stroke="#1a1a1a" stroke-width="1.4" stroke-dasharray="5.8 6.2" stroke-dashoffset="0"/>
<line x1="493.6" y1="248.9" x2="493.6" y2="353.3" stroke="#1a1a1a" stroke-width="1.4" stroke-dasharray="6.3 5.7" stroke-dashoffset="0"/>
<line x1="392.2" y1="382.3" x2="392.2" y2="461.9" stroke="#1a1a1a" stroke-width="1.4" stroke-dasharray="6.3 5.7" stroke-dashoffset="0"/>
<line x1="493.3" y1="356.3" x2="493.3" y2="461.9" stroke="#1a1a1a" stroke-width="1.4" stroke-dasharray="6.3 5.7" stroke-dashoffset="0"/>
<line x1="392.4" y1="525.4" x2="392.4" y2="562.7" stroke="#1a1a1a" stroke-width="1.5" stroke-dasharray="7.4 7.4" stroke-dashoffset="0"/>
<line x1="493.1" y1="464.9" x2="493.1" y2="570.4" stroke="#1a1a1a" stroke-width="1.4" stroke-dasharray="6.3 5.7" stroke-dashoffset="0"/>
<text x="235.17" y="47.1" font-size="9.4" font-weight="normal" fill="#000" stroke="#000" stroke-width="0.3" textLength="39.37" lengthAdjust="spacingAndGlyphs" >854.2 eV</text>
<text x="196.67" y="65.1" font-size="9.4" font-weight="normal" fill="#000" stroke="#000" stroke-width="0.3" textLength="39.98" lengthAdjust="spacingAndGlyphs" >861.2 eV</text>
<text x="264.67" y="65.2" font-size="9.4" font-weight="normal" fill="#000" stroke="#000" stroke-width="0.3" textLength="31.68" lengthAdjust="spacingAndGlyphs" >853 eV</text>
<text x="255.27" y="154.7" font-size="9.4" font-weight="normal" fill="#000" stroke="#000" stroke-width="0.3" textLength="39.78" lengthAdjust="spacingAndGlyphs" >852.8 eV</text>
<text x="498.94" y="63.3" font-size="9.4" font-weight="normal" fill="#000" stroke="#000" stroke-width="0.3" textLength="34.11" lengthAdjust="spacingAndGlyphs" >99.4 eV</text>
<text x="343.14" y="532.8" font-size="9.4" font-weight="normal" fill="#000" stroke="#000" stroke-width="0.3" textLength="45.3" lengthAdjust="spacingAndGlyphs" >103.76 eV</text>
<line x1="51.1" y1="45.9" x2="86" y2="45.9" stroke="#000" stroke-width="1.35" />
<text x="89.38" y="50.6" font-size="12.8" font-weight="normal" fill="#000" stroke="#000" stroke-width="0.3" textLength="114.08" lengthAdjust="spacingAndGlyphs" >Anneals Post Atmos</text>
<line x1="51.4" y1="153.2" x2="85.2" y2="153.2" stroke="#000" stroke-width="1.35" />
<text x="89.1" y="158.1" font-size="12.8" font-weight="normal" fill="#000" stroke="#000" stroke-width="0.3" textLength="79.77" lengthAdjust="spacingAndGlyphs" >40min Anneal</text>
<line x1="51.4" y1="261.1" x2="85.7" y2="261.1" stroke="#000" stroke-width="1.35" />
<text x="88.65" y="265.9" font-size="12.8" font-weight="normal" fill="#000" stroke="#000" stroke-width="0.3" textLength="79.52" lengthAdjust="spacingAndGlyphs" >20min Anneal</text>
<line x1="51.3" y1="368.5" x2="85" y2="368.5" stroke="#000" stroke-width="1.35" />
<text x="88.33" y="374" font-size="12.8" font-weight="normal" fill="#000" stroke="#000" stroke-width="0.3" textLength="126.65" lengthAdjust="spacingAndGlyphs" >Reloaded from Atmos</text>
<line x1="51.4" y1="476.7" x2="85.5" y2="476.7" stroke="#000" stroke-width="1.35" />
<text x="88.88" y="481.6" font-size="12.8" font-weight="normal" fill="#000" stroke="#000" stroke-width="0.3" textLength="76.05" lengthAdjust="spacingAndGlyphs" >As Deposited</text>
<line x1="322.9" y1="43.7" x2="357.6" y2="43.7" stroke="#000" stroke-width="1.35" />
<text x="360.78" y="48.5" font-size="12.8" font-weight="normal" fill="#000" stroke="#000" stroke-width="0.3" textLength="114.48" lengthAdjust="spacingAndGlyphs" >Anneals Post Atmos</text>
<line x1="328.1" y1="151" x2="361.8" y2="151" stroke="#000" stroke-width="1.35" />
<text x="365.7" y="156.2" font-size="12.8" font-weight="normal" fill="#000" stroke="#000" stroke-width="0.3" textLength="80.18" lengthAdjust="spacingAndGlyphs" >40min Anneal</text>
<line x1="328.1" y1="258.5" x2="361.8" y2="258.5" stroke="#000" stroke-width="1.35" />
<text x="365.33" y="263.8" font-size="12.8" font-weight="normal" fill="#000" stroke="#000" stroke-width="0.3" textLength="81.05" lengthAdjust="spacingAndGlyphs" >20min Anneal</text>
<line x1="320.4" y1="367.2" x2="355.9" y2="367.2" stroke="#000" stroke-width="1.35" />
<text x="358.23" y="371.6" font-size="12.8" font-weight="normal" fill="#000" stroke="#000" stroke-width="0.3" textLength="126.04" lengthAdjust="spacingAndGlyphs" >Reloaded from Atmos</text>
<line x1="327.05" y1="475.9" x2="362" y2="475.9" stroke="#ff0000" stroke-width="2.1" stroke-dasharray="2.1 4.4"/>
<text x="365.52" y="480.6" font-size="12.8" font-weight="normal" fill="#000" stroke="#000" stroke-width="0.3" textLength="39.08" lengthAdjust="spacingAndGlyphs" >Bare Si</text>
<line x1="328" y1="494.7" x2="361.7" y2="494.7" stroke="#000" stroke-width="1.35" />
<text x="366.48" y="499.5" font-size="12.8" font-weight="normal" fill="#000" stroke="#000" stroke-width="0.3" textLength="74.63" lengthAdjust="spacingAndGlyphs" >As Deposited</text>
<clipPath id="redclip"><path clip-rule="evenodd" d="M0,0H617V609H0Z M494.6,468H508V556.5H494.6Z"/></clipPath>
<path d="M321.4,558.9 C322.77,558.92 326.82,558.98 329.6,559 C332.38,559.02 335.28,559 338.1,559 C340.92,559 343.7,559.07 346.5,559 C349.3,558.93 352.08,558.88 354.9,558.6 C357.72,558.32 360.58,558.02 363.4,557.3 C366.22,556.58 369.35,555.15 371.8,554.3 C374.25,553.45 375.82,553.1 378.1,552.2 C380.38,551.3 383.22,549.88 385.5,548.9 C387.78,547.92 389.7,546.38 391.8,546.3 C393.9,546.22 396.17,547.68 398.1,548.4 C400.03,549.12 401.47,549.72 403.4,550.6 C405.33,551.48 407.6,552.72 409.7,553.7 C411.8,554.68 413.88,555.78 416,556.5 C418.12,557.22 420.12,557.58 422.4,558 C424.68,558.42 427.43,558.77 429.7,559 C431.97,559.23 433.88,559.33 436,559.4 C438.12,559.47 440.35,559.47 442.4,559.4 C444.45,559.33 446.27,559.07 448.3,559 C450.33,558.93 452.5,559.18 454.6,559 C456.7,558.82 459.03,558.68 460.9,557.9 C462.77,557.12 464.4,555.88 465.8,554.3 C467.2,552.72 468.18,551.32 469.3,548.4 C470.42,545.48 471.43,541.37 472.5,536.8 C473.57,532.23 474.72,525.38 475.7,521 C476.68,516.62 477.35,513.3 478.4,510.5 C479.45,507.7 480.7,505.95 482,504.2 C483.3,502.45 485.05,502.82 486.2,500 C487.35,497.18 488.1,490.65 488.9,487.3 C489.7,483.95 490.22,482.18 491,479.9 C491.78,477.62 492.78,473.72 493.6,473.6 C494.42,473.48 495.1,475.47 495.9,479.2 C496.7,482.93 497.45,488.27 498.4,496 C499.35,503.73 500.53,516.82 501.6,525.6 C502.67,534.38 503.77,543.62 504.8,548.7 C505.83,553.78 506.33,554.32 507.8,556.1 C509.27,557.88 511.58,558.63 513.6,559.4 C515.62,560.17 517.62,560.48 519.9,560.7 C522.18,560.92 525.02,560.7 527.3,560.7 C529.58,560.7 530.45,560.7 533.6,560.7 C536.75,560.7 541.98,560.7 546.2,560.7 C550.42,560.7 554.5,560.7 558.9,560.7 C563.3,560.7 570.32,560.7 572.6,560.7" fill="none" stroke="#ff0000" stroke-width="2.1" stroke-dasharray="2.1 4.3" clip-path="url(#redclip)"/>
<path d="M44.00,103.65 L44.57,103.95 L45.38,104.29 L46.32,103.93 L47.29,103.28 L48.20,102.92 L49.04,103.25 L49.88,103.51 L50.72,103.82 L51.56,104.27 L52.40,104.52 L53.26,104.40 L54.13,103.44 L54.99,102.87 L55.82,102.69 L56.60,103.33 L57.45,103.79 L58.20,104.01 L58.95,104.69 L59.80,104.82 L60.43,103.91 L61.09,102.98 L61.77,102.59 L62.48,102.13 L63.22,101.69 L64.00,101.05 L64.81,100.43 L65.65,101.16 L66.52,101.64 L67.42,101.71 L68.35,100.81 L69.30,100.29 L69.95,100.06 L70.61,100.14 L71.29,100.20 L71.97,100.13 L72.67,99.96 L73.38,99.06 L74.11,98.22 L74.85,97.61 L75.60,97.17 L76.24,96.92 L76.92,96.36 L77.63,95.58 L78.34,95.14 L79.07,94.82 L79.79,94.51 L80.50,94.19 L81.18,93.77 L81.83,93.33 L82.44,92.74 L83.00,92.20 L83.85,91.62 L84.52,91.12 L85.10,90.69 L85.68,90.30 L86.35,90.10 L87.20,89.78 L87.90,89.33 L88.69,88.78 L89.55,88.21 L90.44,88.69 L91.36,88.51 L92.25,87.98 L93.11,87.83 L93.90,87.42 L94.60,86.98 L95.66,88.02 L96.56,88.76 L97.35,89.24 L98.08,89.15 L98.80,88.98 L99.62,88.83 L100.34,88.33 L101.08,87.94 L102.00,87.72 L102.65,87.94 L103.37,88.51 L104.14,88.92 L104.94,89.02 L105.73,89.79 L106.49,90.59 L107.20,90.85 L108.10,90.91 L108.95,90.74 L109.77,91.11 L110.58,91.55 L111.40,92.11 L112.10,92.53 L112.80,93.00 L113.49,93.30 L114.19,93.52 L114.89,93.97 L115.60,94.17 L116.46,93.59 L117.32,93.24 L118.19,93.11 L119.05,93.23 L119.90,92.83 L120.70,92.13 L121.44,91.60 L122.20,91.16 L123.04,91.06 L124.00,90.70 L124.55,90.42 L125.15,90.00 L125.79,89.52 L126.45,88.84 L127.12,88.10 L127.81,87.60 L128.49,87.13 L129.15,86.66 L129.79,86.20 L130.40,85.90 L131.12,85.47 L131.80,84.54 L132.47,83.60 L133.12,82.78 L133.76,82.03 L134.40,81.54 L135.05,81.17 L135.70,80.61 L136.47,80.31 L137.25,80.56 L138.04,81.31 L138.82,82.44 L139.58,83.35 L140.31,84.19 L141.00,84.56 L141.49,84.92 L141.95,85.49 L142.38,86.12 L142.79,86.80 L143.20,87.48 L143.61,88.15 L144.04,88.77 L144.50,89.58 L145.00,90.35 L145.71,91.34 L146.48,92.38 L147.28,92.93 L148.10,93.21 L148.90,93.40 L149.68,93.73 L150.40,94.17 L151.33,93.59 L152.21,92.81 L153.05,92.49 L153.84,92.41 L154.60,92.64 L155.18,92.61 L155.70,92.73 L156.20,93.13 L156.70,93.75 L157.22,94.56 L157.80,95.59 L158.05,96.09 L158.31,96.69 L158.58,97.45 L158.85,98.33 L159.13,99.25 L159.41,100.21 L159.69,101.20 L159.98,102.23 L160.27,103.26 L160.56,104.27 L160.85,105.25 L161.14,105.96 L161.43,106.37 L161.72,106.72 L162.00,106.99 L162.60,107.97 L163.20,109.37 L163.80,110.45 L164.40,111.05 L165.00,111.52 L165.60,111.90 L166.20,112.18 L167.01,112.09 L167.80,111.76 L168.60,111.36 L169.45,110.69 L170.40,110.14 L171.15,110.06 L171.95,109.91 L172.79,109.71 L173.65,109.29 L174.54,109.57 L175.42,110.12 L176.30,109.61 L177.07,109.06 L177.84,108.43 L178.63,108.32 L179.42,108.15 L180.21,107.75 L181.01,107.27 L181.80,106.76 L182.60,106.38 L183.40,106.08 L184.20,105.91 L185.00,105.67 L185.80,105.39 L186.60,105.01 L187.40,104.53 L188.20,103.95 L189.00,103.09 L189.63,102.36 L190.27,102.03 L190.90,101.67 L191.53,101.09 L192.16,100.51 L192.78,100.22 L193.41,99.95 L194.04,99.59 L194.67,99.24 L195.30,98.71 L195.93,98.13 L196.54,97.60 L197.16,97.09 L197.77,96.58 L198.38,96.08 L199.00,95.37 L199.63,94.44 L200.27,93.84 L200.93,93.73 L201.60,93.35 L202.19,92.71 L202.80,91.90 L203.42,90.82 L204.07,89.81 L204.72,89.07 L205.37,88.36 L206.02,87.73 L206.66,87.28 L207.28,87.32 L207.88,87.33 L208.46,86.72 L209.00,86.28 L209.66,86.21 L210.26,86.42 L210.81,87.13 L211.34,88.08 L211.86,88.98 L212.39,89.60 L212.94,90.22 L213.54,90.80 L214.20,91.29 L214.75,91.82 L215.34,92.45 L215.97,93.23 L216.62,94.14 L217.29,94.73 L217.96,95.08 L218.63,95.63 L219.29,96.27 L219.92,97.02 L220.53,97.77 L221.09,98.18 L221.60,98.28 L222.68,98.27 L223.61,98.00 L224.42,97.69 L225.14,96.95 L225.80,96.09 L226.50,95.51 L227.04,94.91 L227.51,94.23 L228.00,93.66 L229.03,93.35 L230.00,92.82 L230.43,92.18 L230.83,91.34 L231.24,90.39 L231.70,89.77 L232.00,89.42 L232.33,89.06 L232.68,88.44 L233.02,87.55 L233.37,86.61 L233.70,85.64 L234.00,84.65 L234.21,83.83 L234.42,82.95 L234.61,82.04 L234.79,81.10 L234.97,80.14 L235.15,79.24 L235.33,78.46 L235.51,77.72 L235.70,77.04 L235.95,76.22 L236.19,75.42 L236.44,74.65 L236.69,73.88 L236.95,73.16 L237.22,72.51 L237.50,71.93 L238.05,70.64 L238.66,69.24 L239.26,68.28 L239.80,67.88 L240.65,67.98 L241.50,68.85 L242.01,69.70 L242.54,70.79 L243.13,71.63 L243.80,71.85 L244.58,72.35 L245.46,73.35 L246.36,73.74 L247.20,74.01 L248.23,74.08 L249.20,73.88 L250.10,74.89 L250.61,75.91 L251.09,76.65 L251.55,77.38 L251.99,78.12 L252.40,78.72 L252.86,79.51 L253.28,80.37 L253.68,80.98 L254.10,81.05 L254.46,80.60 L254.82,79.96 L255.18,79.21 L255.54,78.32 L255.90,77.42 L256.12,76.65 L256.34,75.80 L256.56,74.89 L256.78,73.95 L256.99,73.03 L257.20,72.14 L257.40,71.43 L257.60,70.83 L257.98,69.77 L258.34,68.88 L258.68,68.17 L259.00,67.77 L259.39,67.69 L259.74,68.25 L260.10,70.14 L260.18,70.71 L260.26,71.34 L260.34,72.04 L260.42,72.79 L260.50,73.59 L260.58,74.44 L260.66,75.33 L260.74,76.25 L260.82,77.20 L260.90,78.18 L260.98,79.18 L261.06,80.19 L261.14,81.17 L261.22,82.12 L261.30,83.06 L261.35,83.75 L261.41,84.45 L261.46,85.17 L261.51,85.90 L261.56,86.65 L261.61,87.41 L261.66,88.19 L261.71,88.97 L261.76,89.76 L261.81,90.56 L261.86,91.37 L261.91,92.18 L261.96,93.00 L262.01,93.82 L262.06,94.64 L262.11,95.46 L262.17,96.28 L262.22,97.10 L262.28,97.92 L262.34,98.73 L262.40,99.54 L262.46,100.37 L262.52,101.23 L262.58,102.10 L262.65,102.98 L262.71,103.87 L262.78,104.78 L262.84,105.69 L262.91,106.60 L262.98,107.52 L263.05,108.43 L263.12,109.34 L263.19,110.24 L263.26,111.13 L263.33,112.01 L263.40,112.87 L263.47,113.71 L263.54,114.54 L263.62,115.34 L263.69,116.11 L263.76,116.89 L263.83,117.64 L263.90,118.35 L264.03,119.59 L264.16,120.76 L264.28,121.87 L264.41,122.91 L264.53,123.90 L264.66,124.83 L264.79,125.71 L264.93,126.56 L265.06,127.30 L265.20,127.95 L265.35,128.56 L265.50,129.15 L265.89,130.38 L266.31,131.34 L266.74,131.84 L267.18,132.15 L267.60,132.31 L268.58,132.83 L269.60,132.30 L270.17,132.44 L270.77,133.63 L271.39,134.87 L272.00,135.35 L272.80,135.17 L273.59,134.54 L274.40,134.22 L275.23,134.62 L276.07,135.21 L276.90,135.76 L277.50,136.30 L278.08,136.39 L279.30,135.01 L279.86,135.53 L280.49,136.15 L281.18,136.41 L281.93,136.60 L282.74,136.33 L283.59,136.03 L284.49,135.71 L285.43,136.54 L286.40,136.98 L287.40,137.02 L288.12,136.81 L288.92,136.63 L289.77,136.45 L290.68,136.32 L291.61,136.25 L292.57,136.18 L293.53,136.02 L294.48,136.47 L295.40,136.56 L296.29,136.30 L297.11,136.07 L297.88,135.91 L298.55,135.84 L299.13,136.02 L299.60,136.32" fill="none" stroke="#000" stroke-width="1.4" stroke-linejoin="round" stroke-linecap="round" />
<path d="M44.00,222.18 L44.60,222.08 L45.46,221.75 L46.46,220.54 L47.50,220.26 L48.48,220.68 L49.30,221.29 L50.20,221.49 L50.92,221.96 L51.60,222.40 L52.40,222.30 L53.17,221.81 L54.00,221.64 L54.86,221.22 L55.74,220.70 L56.60,220.33 L57.42,220.01 L58.22,219.65 L59.03,219.92 L59.91,220.15 L60.90,220.04 L61.59,220.20 L62.33,220.34 L63.12,220.42 L63.93,220.34 L64.75,220.09 L65.58,219.50 L66.40,218.99 L67.20,218.64 L67.98,218.22 L68.75,217.76 L69.51,217.22 L70.28,216.74 L71.06,216.38 L71.85,216.29 L72.66,216.30 L73.50,215.80 L74.29,215.43 L75.11,215.16 L75.97,215.28 L76.83,215.12 L77.70,214.41 L78.56,214.06 L79.38,213.64 L80.17,213.01 L80.90,212.48 L81.76,211.90 L82.56,211.77 L83.31,211.46 L84.02,210.91 L84.71,210.65 L85.40,210.58 L86.10,210.60 L86.91,210.62 L87.70,209.87 L88.47,209.09 L89.24,208.28 L90.02,208.28 L90.80,208.79 L91.61,208.78 L92.45,208.96 L93.29,209.27 L94.11,209.78 L94.89,210.16 L95.60,210.16 L96.44,209.87 L97.11,209.38 L97.82,208.61 L98.80,208.13 L99.45,208.65 L100.21,209.10 L101.03,209.28 L101.89,208.88 L102.76,208.74 L103.60,209.56 L104.39,209.89 L105.10,210.02 L106.07,209.89 L106.93,209.92 L107.72,210.04 L108.49,210.11 L109.30,210.44 L110.14,211.25 L110.98,211.56 L111.82,211.90 L112.66,212.66 L113.50,212.57 L114.17,212.05 L114.82,212.08 L115.46,212.01 L116.14,211.51 L116.87,210.95 L117.70,210.04 L118.41,209.54 L119.20,209.28 L120.04,209.20 L120.90,209.06 L121.76,208.50 L122.60,207.93 L123.39,207.37 L124.10,206.84 L125.06,206.28 L125.89,205.97 L126.65,205.91 L127.43,205.60 L128.30,204.62 L128.99,204.54 L129.71,204.72 L130.45,203.86 L131.21,203.02 L131.98,203.18 L132.74,202.92 L133.50,202.15 L134.37,202.36 L135.22,202.73 L136.08,202.51 L136.96,202.39 L137.86,202.37 L138.80,202.53 L139.54,202.75 L140.30,202.99 L141.08,203.10 L141.88,203.14 L142.69,203.09 L143.49,203.19 L144.30,203.41 L145.10,203.91 L145.92,204.54 L146.79,205.22 L147.68,205.28 L148.56,205.17 L149.41,205.13 L150.20,206.07 L150.91,206.53 L151.50,206.48 L152.30,206.08 L152.76,205.31 L153.11,204.37 L153.60,203.18 L154.33,201.76 L155.15,201.18 L155.97,200.81 L156.70,200.05 L157.18,200.05 L157.61,200.86 L158.01,201.88 L158.40,203.10 L158.80,204.05 L159.01,204.62 L159.20,205.27 L159.40,206.00 L159.59,206.79 L159.78,207.64 L159.98,208.55 L160.19,209.47 L160.41,210.35 L160.65,211.20 L160.90,212.00 L161.20,213.01 L161.52,214.12 L161.85,215.24 L162.19,216.36 L162.55,217.04 L162.92,217.50 L163.30,217.88 L163.69,218.30 L164.10,219.05 L164.86,220.17 L165.66,221.00 L166.49,221.34 L167.37,220.97 L168.30,221.09 L169.15,221.52 L170.08,222.36 L171.04,221.95 L171.99,222.00 L172.85,222.13 L173.60,221.51 L174.60,221.26 L175.30,221.23 L176.30,220.67 L177.03,220.71 L177.87,221.05 L178.79,220.31 L179.74,220.40 L180.69,220.75 L181.60,219.50 L182.35,219.45 L183.09,219.73 L183.82,218.79 L184.56,217.98 L185.31,217.80 L186.09,217.76 L186.90,217.91 L187.64,217.17 L188.40,216.36 L189.19,216.08 L189.99,216.01 L190.79,216.16 L191.60,215.62 L192.41,214.96 L193.20,214.23 L193.91,214.16 L194.64,214.50 L195.38,213.63 L196.12,212.43 L196.84,211.82 L197.56,211.30 L198.24,211.06 L198.89,210.84 L199.50,210.62 L200.32,210.27 L201.06,209.87 L201.73,209.13 L202.38,208.24 L203.02,207.79 L203.70,207.60 L204.54,206.98 L205.38,206.38 L206.22,206.40 L207.06,206.51 L207.90,206.80 L208.57,207.05 L209.22,207.55 L209.86,208.29 L210.54,209.02 L211.27,209.50 L212.10,209.93 L212.80,210.27 L213.55,210.41 L214.34,210.45 L215.17,210.39 L216.01,210.28 L216.86,210.13 L217.69,210.57 L218.50,210.72 L219.41,210.33 L220.34,210.02 L221.26,209.98 L222.18,210.19 L223.08,210.43 L223.96,209.86 L224.80,208.99 L225.62,209.11 L226.42,208.86 L227.21,208.29 L227.97,207.92 L228.69,207.49 L229.37,206.67 L230.00,205.96 L230.56,205.85 L231.04,205.60 L231.48,204.78 L231.89,203.66 L232.30,202.52 L232.73,201.64 L233.20,201.02 L233.65,200.47 L234.11,199.68 L234.59,198.77 L235.07,197.86 L235.56,196.85 L236.05,195.89 L236.53,195.14 L237.00,194.85 L237.72,194.50 L238.43,193.52 L239.13,192.73 L239.84,192.30 L240.60,192.03 L241.40,192.03 L242.24,192.39 L243.09,192.83 L243.95,193.06 L244.80,193.47 L245.66,193.59 L246.54,192.92 L247.41,192.62 L248.24,192.51 L249.00,192.27 L249.84,192.58 L250.61,193.29 L251.29,193.53 L251.90,193.59 L252.79,194.85 L253.60,194.85 L253.83,194.37 L254.08,193.76 L254.34,193.02 L254.61,192.18 L254.89,191.42 L255.16,190.57 L255.42,189.67 L255.67,188.72 L255.90,187.74 L256.03,187.07 L256.16,186.37 L256.28,185.63 L256.39,184.87 L256.51,184.07 L256.62,183.26 L256.73,182.43 L256.83,181.59 L256.94,180.74 L257.05,179.89 L257.16,179.03 L257.26,178.19 L257.37,177.37 L257.49,176.56 L257.60,175.77 L257.72,174.93 L257.84,174.00 L257.96,173.01 L258.08,171.97 L258.20,170.90 L258.32,169.84 L258.44,168.80 L258.56,167.78 L258.68,166.82 L258.80,165.95 L258.92,165.19 L259.04,164.57 L259.16,164.11 L259.28,163.83 L259.40,163.76 L259.50,163.87 L259.60,164.13 L259.71,164.54 L259.81,165.06 L259.91,165.66 L260.01,166.35 L260.11,167.13 L260.21,167.98 L260.31,168.89 L260.40,169.84 L260.50,170.82 L260.60,171.82 L260.70,172.83 L260.80,173.83 L260.90,174.80 L261.00,175.74 L261.10,176.63 L261.18,177.40 L261.26,178.17 L261.34,178.95 L261.42,179.74 L261.50,180.54 L261.59,181.36 L261.67,182.18 L261.75,183.01 L261.83,183.84 L261.91,184.69 L261.99,185.54 L262.07,186.41 L262.15,187.28 L262.23,188.15 L262.31,189.04 L262.40,189.93 L262.48,190.82 L262.56,191.71 L262.64,192.61 L262.72,193.52 L262.80,194.43 L262.87,195.21 L262.94,196.01 L263.01,196.82 L263.08,197.65 L263.15,198.49 L263.22,199.34 L263.29,200.20 L263.36,201.06 L263.43,201.94 L263.50,202.81 L263.58,203.69 L263.65,204.57 L263.72,205.43 L263.79,206.25 L263.86,207.07 L263.92,207.88 L263.99,208.68 L264.06,209.47 L264.13,210.25 L264.19,211.01 L264.26,211.76 L264.32,212.49 L264.38,213.20 L264.44,213.89 L264.50,214.56 L264.58,215.51 L264.66,216.44 L264.74,217.35 L264.82,218.25 L264.89,219.11 L264.96,219.96 L265.03,220.81 L265.10,221.66 L265.17,222.48 L265.24,223.29 L265.30,224.07 L265.37,224.83 L265.44,225.56 L265.50,226.28 L265.57,226.97 L265.63,227.64 L265.70,228.28 L265.82,229.42 L265.92,230.44 L266.01,231.37 L266.10,232.22 L266.20,233.00 L266.31,233.74 L266.44,234.50 L266.60,235.25 L266.80,236.02 L267.10,237.00 L267.44,237.95 L267.82,238.68 L268.23,239.23 L268.66,239.73 L269.12,240.41 L269.60,241.31 L270.18,242.33 L270.78,242.58 L271.42,242.72 L272.10,243.01 L272.82,243.28 L273.60,243.68 L274.33,243.95 L275.10,244.15 L275.92,244.26 L276.77,244.34 L277.62,244.69 L278.47,244.84 L279.30,244.85 L280.04,244.78 L280.67,244.74 L281.28,245.01 L281.93,245.26 L282.72,244.90 L283.72,245.12 L285.00,245.84 L285.61,245.91 L286.31,245.82 L287.09,245.65 L287.93,245.40 L288.82,245.32 L289.75,245.45 L290.71,245.57 L291.68,245.23 L292.66,245.05 L293.62,245.49 L294.57,245.66 L295.49,245.51 L296.35,245.25 L297.17,245.21 L297.91,245.54 L298.57,246.12 L299.14,246.16 L299.60,245.95" fill="none" stroke="#000" stroke-width="1.4" stroke-linejoin="round" stroke-linecap="round" />
<path d="M44.00,335.81 L44.46,335.94 L45.04,336.10 L45.70,336.07 L46.45,335.86 L47.27,335.96 L48.14,336.07 L49.04,336.03 L49.98,335.47 L50.92,335.03 L51.86,334.96 L52.77,335.75 L53.66,335.61 L54.50,335.04 L55.31,334.93 L56.13,335.20 L56.94,335.82 L57.76,335.31 L58.57,334.99 L59.39,335.23 L60.21,334.96 L61.03,334.59 L61.84,334.64 L62.66,334.34 L63.47,333.78 L64.29,334.11 L65.10,334.38 L65.91,334.52 L66.72,334.24 L67.53,333.93 L68.34,334.06 L69.15,334.04 L69.95,333.91 L70.76,333.30 L71.57,333.07 L72.37,333.64 L73.18,333.63 L73.99,333.39 L74.79,333.03 L75.60,332.68 L76.41,332.32 L77.21,332.87 L78.02,333.21 L78.83,332.71 L79.63,332.60 L80.44,332.69 L81.25,332.71 L82.05,332.59 L82.86,332.31 L83.67,332.34 L84.48,332.28 L85.29,331.70 L86.10,331.68 L86.91,332.00 L87.73,331.64 L88.54,331.63 L89.36,332.10 L90.17,332.15 L90.99,331.96 L91.81,331.25 L92.63,331.03 L93.44,331.09 L94.26,331.18 L95.07,331.54 L95.89,332.23 L96.70,331.87 L97.52,331.50 L98.34,331.62 L99.17,331.39 L100.01,331.05 L100.84,331.16 L101.67,331.08 L102.50,330.87 L103.32,330.73 L104.13,330.70 L104.92,330.82 L105.70,330.78 L106.46,330.72 L107.20,330.92 L108.13,330.93 L109.05,330.67 L109.94,330.90 L110.81,330.94 L111.66,330.86 L112.48,330.95 L113.29,330.82 L114.08,330.46 L114.85,329.93 L115.60,329.48 L116.50,329.94 L117.34,329.91 L118.15,329.62 L118.93,329.16 L119.70,328.59 L120.45,327.89 L121.22,327.51 L122.00,327.32 L122.80,326.59 L123.61,326.27 L124.42,326.63 L125.22,326.37 L126.02,325.94 L126.80,325.49 L127.57,325.08 L128.30,324.70 L129.22,325.00 L130.07,325.25 L130.89,325.05 L131.72,324.16 L132.58,323.40 L133.50,324.09 L134.25,324.06 L135.04,323.88 L135.86,323.86 L136.70,324.07 L137.54,324.48 L138.36,325.14 L139.15,325.65 L139.90,325.82 L140.85,325.23 L141.76,324.68 L142.63,325.10 L143.48,324.54 L144.30,324.00 L145.10,324.29 L145.87,323.98 L146.60,323.30 L147.31,323.25 L148.01,323.18 L148.70,322.60 L149.40,321.77 L149.79,320.97 L150.18,320.08 L150.56,319.10 L150.95,318.47 L151.34,317.83 L151.72,317.18 L152.11,316.24 L152.49,315.09 L152.86,313.99 L153.23,312.97 L153.60,312.21 L154.18,311.07 L154.76,310.15 L155.35,309.56 L155.91,308.94 L156.45,307.92 L156.95,307.15 L157.40,306.95 L157.83,307.18 L158.17,307.67 L158.46,308.42 L158.75,309.47 L159.08,310.80 L159.50,312.41 L159.65,313.01 L159.82,313.68 L159.99,314.42 L160.17,315.21 L160.35,316.05 L160.54,316.94 L160.74,317.85 L160.94,318.78 L161.14,319.63 L161.34,320.43 L161.54,321.22 L161.75,322.01 L161.95,322.77 L162.15,323.50 L162.35,324.22 L162.54,324.95 L162.73,325.63 L162.92,326.24 L163.10,326.78 L163.56,327.99 L163.99,329.34 L164.41,330.51 L164.82,331.52 L165.25,331.90 L165.70,332.10 L166.20,332.32 L166.82,333.40 L167.46,334.41 L168.12,334.87 L168.83,335.22 L169.59,335.15 L170.40,335.25 L171.15,335.62 L171.95,335.95 L172.79,336.26 L173.65,336.61 L174.54,336.83 L175.42,336.97 L176.30,337.10 L177.16,337.30 L178.01,337.57 L178.86,338.05 L179.73,338.05 L180.63,337.74 L181.58,337.68 L182.60,337.86 L183.35,337.79 L184.13,337.21 L184.93,336.91 L185.75,336.79 L186.59,337.21 L187.45,337.03 L188.33,336.32 L189.24,336.08 L190.16,335.48 L191.10,334.86 L191.84,335.01 L192.61,335.06 L193.39,335.01 L194.18,334.38 L194.99,333.90 L195.81,334.25 L196.64,334.25 L197.47,334.00 L198.30,333.23 L199.14,333.05 L199.96,333.38 L200.79,333.05 L201.60,332.82 L202.41,332.82 L203.21,332.44 L204.02,332.04 L204.83,332.17 L205.63,332.15 L206.44,331.99 L207.25,331.18 L208.05,330.55 L208.86,330.39 L209.67,330.62 L210.48,330.97 L211.29,331.05 L212.10,330.67 L212.91,329.81 L213.73,329.71 L214.54,329.69 L215.36,329.62 L216.17,329.28 L216.99,328.86 L217.81,328.70 L218.63,328.50 L219.44,328.26 L220.26,328.12 L221.07,328.04 L221.89,328.07 L222.70,327.74 L223.52,327.33 L224.35,327.23 L225.19,327.31 L226.04,327.47 L226.89,326.57 L227.73,326.32 L228.57,326.68 L229.39,326.69 L230.20,326.48 L230.99,325.94 L231.76,325.63 L232.49,325.42 L233.20,325.75 L234.17,325.73 L235.09,324.96 L235.97,324.75 L236.82,324.70 L237.63,324.79 L238.40,324.89 L239.16,324.84 L239.89,324.21 L240.60,323.88 L241.62,323.98 L242.58,323.88 L243.48,324.12 L244.33,324.36 L245.13,323.82 L245.90,323.60 L246.77,323.63 L247.57,322.59 L248.30,321.68 L248.98,321.20 L249.60,320.63 L250.05,320.14 L250.44,319.59 L250.79,318.96 L251.11,318.19 L251.44,317.29 L251.80,316.22 L251.99,315.64 L252.18,314.90 L252.38,314.12 L252.58,313.32 L252.78,312.48 L252.97,311.60 L253.17,310.68 L253.37,309.72 L253.56,308.74 L253.74,307.70 L253.93,306.60 L254.10,305.42 L254.19,304.74 L254.28,304.04 L254.37,303.31 L254.46,302.55 L254.54,301.77 L254.63,300.98 L254.71,300.18 L254.79,299.35 L254.87,298.52 L254.95,297.67 L255.03,296.80 L255.11,295.93 L255.19,295.05 L255.27,294.16 L255.34,293.27 L255.42,292.37 L255.50,291.48 L255.58,290.58 L255.66,289.69 L255.74,288.79 L255.82,287.91 L255.90,287.03 L255.98,286.27 L256.05,285.49 L256.12,284.70 L256.20,283.90 L256.27,283.09 L256.35,282.27 L256.43,281.44 L256.50,280.61 L256.57,279.78 L256.65,278.95 L256.73,278.11 L256.80,277.28 L256.88,276.45 L256.95,275.63 L257.02,274.81 L257.10,274.00 L257.17,273.20 L257.25,272.36 L257.32,271.52 L257.40,270.69 L257.47,269.88 L257.55,269.08 L257.62,268.31 L257.70,267.55 L257.80,266.53 L257.90,265.47 L258.00,264.39 L258.10,263.29 L258.20,262.18 L258.30,261.08 L258.40,259.99 L258.49,258.93 L258.59,258.02 L258.69,257.16 L258.79,256.36 L258.89,255.63 L258.99,254.99 L259.09,254.45 L259.19,254.01 L259.30,253.69 L259.40,253.50 L259.50,253.45 L259.62,253.55 L259.73,253.81 L259.85,254.18 L259.97,254.63 L260.09,255.21 L260.21,255.89 L260.33,256.67 L260.45,257.55 L260.57,258.50 L260.69,259.51 L260.81,260.58 L260.93,261.70 L261.05,262.86 L261.17,263.98 L261.28,265.08 L261.40,266.18 L261.46,266.76 L261.52,267.36 L261.58,267.99 L261.64,268.64 L261.70,269.30 L261.75,269.99 L261.81,270.69 L261.87,271.41 L261.93,272.15 L261.99,272.90 L262.05,273.66 L262.10,274.44 L262.16,275.23 L262.22,276.03 L262.28,276.83 L262.34,277.65 L262.39,278.47 L262.45,279.34 L262.51,280.23 L262.57,281.11 L262.62,282.00 L262.68,282.90 L262.74,283.79 L262.80,284.68 L262.85,285.57 L262.91,286.46 L262.97,287.34 L263.03,288.22 L263.08,289.09 L263.14,289.96 L263.20,290.81 L263.25,291.59 L263.31,292.38 L263.36,293.18 L263.41,293.98 L263.46,294.79 L263.51,295.60 L263.57,296.42 L263.62,297.24 L263.67,298.07 L263.72,298.91 L263.77,299.77 L263.82,300.62 L263.87,301.48 L263.93,302.34 L263.98,303.21 L264.03,304.07 L264.08,304.93 L264.13,305.78 L264.19,306.64 L264.24,307.49 L264.29,308.34 L264.34,309.19 L264.40,310.03 L264.45,310.87 L264.50,311.70 L264.56,312.53 L264.61,313.35 L264.66,314.16 L264.72,314.97 L264.77,315.76 L264.83,316.55 L264.89,317.33 L264.94,318.10 L265.00,318.86 L265.07,319.75 L265.14,320.65 L265.21,321.54 L265.28,322.44 L265.35,323.33 L265.42,324.22 L265.48,325.10 L265.55,325.98 L265.62,326.85 L265.69,327.71 L265.76,328.57 L265.82,329.42 L265.90,330.25 L265.97,331.07 L266.04,331.88 L266.12,332.68 L266.19,333.46 L266.27,334.22 L266.35,334.99 L266.43,335.75 L266.52,336.48 L266.61,337.20 L266.70,337.90 L266.79,338.58 L266.89,339.23 L266.99,339.86 L267.10,340.46 L267.35,341.73 L267.60,342.87 L267.87,343.71 L268.15,344.44 L268.44,345.08 L268.74,345.64 L269.06,346.18 L269.38,346.70 L269.72,347.19 L270.07,347.64 L270.43,348.17 L270.80,348.76 L271.32,349.67 L271.69,350.47 L272.05,351.22 L272.54,351.94 L273.30,352.16 L274.47,352.01 L276.20,352.43 L276.73,352.54 L277.33,352.60 L277.98,352.65 L278.70,352.68 L279.46,352.81 L280.27,353.32 L281.12,353.09 L282.00,352.41 L282.91,352.27 L283.85,352.93 L284.81,353.63 L285.78,353.57 L286.76,353.69 L287.74,353.33 L288.73,353.11 L289.71,353.69 L290.68,353.66 L291.63,353.14 L292.56,352.75 L293.47,353.29 L294.34,353.45 L295.18,353.45 L295.98,353.28 L296.73,353.15 L297.42,353.03 L298.07,352.87 L298.65,352.72 L299.16,352.70 L299.60,352.73" fill="none" stroke="#000" stroke-width="1.4" stroke-linejoin="round" stroke-linecap="round" />
<path d="M44.00,431.50 L44.57,431.39 L45.38,431.25 L46.32,431.53 L47.29,431.44 L48.20,431.35 L49.04,431.55 L49.88,432.23 L50.72,433.07 L51.56,433.93 L52.40,434.15 L53.20,433.92 L53.97,433.57 L54.76,432.90 L55.62,431.92 L56.60,431.81 L57.30,431.67 L58.05,431.26 L58.84,430.93 L59.67,430.65 L60.51,430.41 L61.36,430.25 L62.19,430.17 L63.00,430.63 L63.79,430.82 L64.58,430.56 L65.37,430.35 L66.16,430.15 L66.94,429.95 L67.73,429.50 L68.51,428.69 L69.30,428.32 L70.00,428.09 L70.70,427.97 L71.40,427.80 L72.10,427.45 L72.80,427.09 L73.50,426.73 L74.20,426.34 L74.90,425.90 L75.60,425.10 L76.31,424.02 L77.04,423.72 L77.78,423.72 L78.52,423.34 L79.24,422.91 L79.96,422.32 L80.64,421.70 L81.29,421.01 L81.90,420.48 L82.61,420.18 L83.25,419.67 L83.84,418.89 L84.40,418.26 L84.95,418.26 L85.51,418.25 L86.10,417.71 L86.71,417.02 L87.32,416.15 L87.94,415.20 L88.56,414.28 L89.18,413.42 L89.79,412.92 L90.40,412.83 L91.23,412.42 L92.04,411.73 L92.85,411.70 L93.70,411.64 L94.60,411.33 L95.41,410.74 L96.26,410.14 L97.13,409.71 L98.02,409.57 L98.92,409.44 L99.80,409.22 L100.56,409.08 L101.34,409.10 L102.12,409.50 L102.90,410.11 L103.66,410.91 L104.40,410.81 L105.10,410.51 L105.88,410.88 L106.62,411.39 L107.33,412.24 L108.01,412.76 L108.67,412.93 L109.30,413.36 L109.99,414.20 L110.60,414.99 L111.20,415.70 L111.81,416.37 L112.50,416.92 L113.13,417.55 L113.79,418.54 L114.47,419.08 L115.18,418.85 L115.92,419.04 L116.70,419.54 L117.52,419.64 L118.39,419.83 L119.29,420.41 L120.20,420.21 L121.11,420.06 L122.00,420.08 L122.88,420.37 L123.78,420.15 L124.67,419.52 L125.54,419.46 L126.39,419.36 L127.20,419.21 L127.85,418.10 L128.47,416.95 L129.06,416.24 L129.65,415.52 L130.22,414.87 L130.80,414.26 L131.40,413.78 L131.93,413.46 L132.47,413.03 L133.01,412.22 L133.55,411.39 L134.09,410.49 L134.63,409.58 L135.17,408.84 L135.70,408.38 L136.55,407.70 L137.39,406.96 L138.22,406.67 L139.06,406.54 L139.90,406.06 L140.60,406.35 L141.30,407.19 L142.00,407.89 L142.70,408.57 L143.40,409.19 L144.10,409.78 L144.71,410.09 L145.33,410.42 L145.95,411.05 L146.57,411.75 L147.17,411.84 L147.75,411.81 L148.30,412.27 L148.81,413.04 L149.29,413.74 L149.75,414.66 L150.19,415.64 L150.62,416.72 L151.06,417.59 L151.50,418.70 L151.68,419.25 L151.87,419.87 L152.05,420.51 L152.23,421.19 L152.42,421.92 L152.60,422.68 L152.78,423.47 L152.96,424.27 L153.14,425.09 L153.32,426.04 L153.50,427.04 L153.68,428.04 L153.87,429.02 L154.05,429.98 L154.23,430.90 L154.42,431.79 L154.60,432.53 L154.84,433.36 L155.08,434.18 L155.31,435.00 L155.54,435.81 L155.78,436.60 L156.01,437.49 L156.25,438.36 L156.49,439.20 L156.74,439.99 L156.99,440.74 L157.25,441.31 L157.52,441.72 L157.80,442.05 L158.58,442.66 L159.41,443.15 L160.27,443.59 L161.14,443.89 L162.00,443.66 L162.84,443.69 L163.68,443.78 L164.52,444.04 L165.36,443.57 L166.20,442.55 L166.90,441.89 L167.61,441.22 L168.33,440.74 L169.03,440.27 L169.72,439.85 L170.40,439.62 L171.18,439.60 L171.93,438.93 L172.67,438.00 L173.42,437.37 L174.20,436.74 L174.89,436.12 L175.61,435.83 L176.34,436.08 L177.06,435.60 L177.75,434.80 L178.40,434.36 L179.22,434.24 L179.93,434.54 L180.68,434.81 L181.60,434.73 L182.16,434.50 L182.75,434.19 L183.39,433.93 L184.06,433.76 L184.75,433.15 L185.46,432.09 L186.18,431.24 L186.90,430.52 L187.49,430.27 L188.11,430.07 L188.75,429.51 L189.40,428.78 L190.06,428.56 L190.71,428.55 L191.36,427.67 L191.99,426.43 L192.61,425.82 L193.20,425.50 L193.76,425.12 L194.31,424.68 L194.84,424.20 L195.35,423.37 L195.86,422.54 L196.37,421.98 L196.87,421.67 L197.37,421.33 L197.88,420.37 L198.40,419.34 L198.84,418.50 L199.27,417.72 L199.70,416.92 L200.14,416.17 L200.57,415.54 L201.01,414.90 L201.44,414.16 L201.89,413.24 L202.33,412.33 L202.78,411.57 L203.24,411.07 L203.70,410.59 L204.17,409.91 L204.66,409.03 L205.16,408.10 L205.67,407.59 L206.18,407.12 L206.69,406.52 L207.20,405.72 L207.71,405.00 L208.20,404.25 L208.68,403.61 L209.15,403.11 L209.60,402.73 L210.11,402.53 L210.59,402.73 L211.05,403.35 L211.50,404.12 L211.94,404.95 L212.37,405.81 L212.81,406.73 L213.26,407.64 L213.72,408.53 L214.20,409.37 L214.59,410.01 L214.98,410.70 L215.38,411.42 L215.79,412.30 L216.21,413.36 L216.62,414.43 L217.04,415.28 L217.46,415.70 L217.88,416.10 L218.29,416.57 L218.70,417.25 L219.10,417.90 L219.50,418.53 L219.97,419.78 L220.43,421.05 L220.90,422.19 L221.37,422.80 L221.83,423.38 L222.29,424.11 L222.74,425.02 L223.18,425.87 L223.60,426.39 L224.01,426.57 L224.40,426.66 L225.41,427.25 L226.33,427.27 L227.16,426.47 L227.90,425.93 L228.50,425.45 L228.97,424.75 L229.43,423.87 L230.00,422.74 L230.35,422.02 L230.74,421.26 L231.15,420.45 L231.58,419.51 L232.01,418.51 L232.43,417.43 L232.83,416.49 L233.20,415.48 L233.40,414.86 L233.58,414.19 L233.77,413.48 L233.94,412.82 L234.12,412.16 L234.28,411.47 L234.45,410.76 L234.61,410.03 L234.78,409.30 L234.94,408.57 L235.10,407.84 L235.26,407.00 L235.43,406.18 L235.60,405.38 L235.77,404.58 L235.95,403.78 L236.12,402.96 L236.30,402.15 L236.48,401.34 L236.65,400.52 L236.83,399.71 L237.01,398.91 L237.18,398.11 L237.35,397.33 L237.52,396.56 L237.68,395.80 L237.84,394.96 L238.00,394.13 L238.19,393.09 L238.38,392.05 L238.56,391.01 L238.74,389.99 L238.91,389.00 L239.08,388.12 L239.25,387.38 L239.42,386.69 L239.58,386.05 L239.74,385.48 L239.90,384.99 L240.41,383.73 L240.89,383.10 L241.50,382.93 L242.12,382.97 L242.85,383.27 L243.60,383.96 L244.30,384.54 L245.13,385.01 L245.91,385.68 L246.70,385.92 L247.19,385.55 L247.68,384.92 L248.18,384.03 L248.65,382.80 L249.10,381.50 L249.34,380.70 L249.57,380.02 L249.80,379.33 L250.03,378.60 L250.24,377.87 L250.45,377.15 L250.65,376.49 L250.83,375.82 L251.00,375.25 L251.52,373.50 L252.00,373.28 L252.24,373.32 L252.51,373.42 L252.79,373.70 L253.08,374.28 L253.36,375.37 L253.60,377.37 L253.65,377.96 L253.71,378.57 L253.76,379.23 L253.81,379.92 L253.85,380.63 L253.90,381.38 L253.94,382.15 L253.99,382.95 L254.03,383.77 L254.07,384.62 L254.11,385.48 L254.15,386.37 L254.19,387.26 L254.23,388.18 L254.27,389.10 L254.31,390.04 L254.36,390.99 L254.40,391.94 L254.45,392.90 L254.49,393.86 L254.54,394.83 L254.59,395.79 L254.65,396.70 L254.70,397.61 L254.75,398.36 L254.80,399.12 L254.84,399.90 L254.90,400.70 L254.95,401.51 L255.00,402.32 L255.05,403.15 L255.11,403.99 L255.16,404.83 L255.21,405.68 L255.27,406.54 L255.33,407.40 L255.38,408.26 L255.44,409.12 L255.50,409.99 L255.56,410.85 L255.61,411.71 L255.67,412.57 L255.73,413.43 L255.79,414.27 L255.84,415.12 L255.90,415.95 L255.96,416.76 L256.02,417.56 L256.08,418.34 L256.13,419.12 L256.19,419.88 L256.24,420.63 L256.30,421.36 L256.37,422.27 L256.44,423.17 L256.50,424.07 L256.57,424.96 L256.63,425.85 L256.70,426.73 L256.76,427.60 L256.82,428.46 L256.89,429.31 L256.95,430.15 L257.02,430.99 L257.08,431.81 L257.15,432.62 L257.22,433.41 L257.28,434.16 L257.35,434.91 L257.43,435.63 L257.50,436.35 L257.57,437.04 L257.65,437.72 L257.73,438.38 L257.81,439.03 L257.90,439.65 L258.03,440.57 L258.17,441.45 L258.30,442.29 L258.44,443.10 L258.58,444.00 L258.73,444.99 L258.87,445.94 L259.03,446.87 L259.19,447.79 L259.35,448.68 L259.52,449.56 L259.70,450.43 L259.89,451.12 L260.09,451.60 L260.30,452.05 L260.64,452.69 L261.00,453.27 L261.39,454.31 L261.79,455.51 L262.21,456.66 L262.63,457.47 L263.06,457.96 L263.48,458.39 L263.90,458.68 L264.30,458.83 L265.20,459.02 L266.05,459.28 L267.00,459.65 L268.20,459.96 L268.76,459.98 L269.25,460.11 L269.73,460.27 L270.24,460.43 L270.85,460.61 L271.62,460.70 L272.59,459.95 L273.84,459.57 L275.40,460.93 L275.95,460.37 L276.57,459.74 L277.24,460.15 L277.96,460.89 L278.73,460.30 L279.54,460.01 L280.39,460.70 L281.27,460.87 L282.17,460.89 L283.10,461.01 L284.05,460.72 L285.02,460.76 L285.99,460.92 L286.97,460.17 L287.95,460.54 L288.93,460.60 L289.89,460.43 L290.85,461.06 L291.78,461.07 L292.70,460.87 L293.58,460.58 L294.44,460.64 L295.26,460.47 L296.04,460.03 L296.77,459.95 L297.45,459.97 L298.08,460.36 L298.65,460.73 L299.16,460.79 L299.60,460.74" fill="none" stroke="#000" stroke-width="1.4" stroke-linejoin="round" stroke-linecap="round" />
<path d="M44.00,549.28 L44.58,549.28 L45.38,549.27 L46.32,549.19 L47.34,549.20 L48.36,549.09 L49.30,548.88 L50.17,549.10 L51.04,548.70 L51.90,548.08 L52.76,548.65 L53.63,549.24 L54.50,549.73 L55.38,549.54 L56.26,549.73 L57.14,549.94 L58.03,549.22 L58.92,549.25 L59.80,549.40 L60.55,549.06 L61.29,548.90 L62.02,548.89 L62.76,548.66 L63.51,548.33 L64.29,547.43 L65.10,546.74 L65.76,546.52 L66.43,546.20 L67.13,545.79 L67.83,545.64 L68.55,545.67 L69.26,545.17 L69.98,544.55 L70.69,543.57 L71.40,542.76 L72.11,542.84 L72.82,542.59 L73.54,541.60 L74.25,541.09 L74.97,541.05 L75.67,540.49 L76.37,539.69 L77.04,539.14 L77.70,538.67 L78.51,538.93 L79.29,539.02 L80.05,538.11 L80.79,537.51 L81.52,537.13 L82.26,537.16 L83.00,537.22 L83.52,536.64 L84.04,535.97 L84.56,535.08 L85.08,534.02 L85.60,532.93 L86.12,532.60 L86.64,532.30 L87.16,531.73 L87.68,530.90 L88.20,530.16 L88.94,529.74 L89.68,529.33 L90.41,528.62 L91.15,528.47 L91.91,528.91 L92.69,528.71 L93.50,528.32 L94.24,528.34 L95.00,528.24 L95.78,527.97 L96.58,527.35 L97.39,526.70 L98.19,526.64 L99.00,526.51 L99.80,526.32 L100.60,526.35 L101.42,526.44 L102.25,526.53 L103.07,526.88 L103.88,527.36 L104.68,527.92 L105.46,528.11 L106.20,527.89 L107.00,528.59 L107.77,529.52 L108.51,529.68 L109.23,529.94 L109.94,530.39 L110.66,531.07 L111.40,531.96 L112.15,532.34 L112.91,532.56 L113.66,532.94 L114.42,533.39 L115.18,534.00 L115.94,534.57 L116.70,535.08 L117.57,534.81 L118.43,534.97 L119.29,536.02 L120.16,535.35 L121.06,534.98 L122.00,535.57 L122.66,535.44 L123.35,535.19 L124.07,534.18 L124.79,533.47 L125.52,533.70 L126.24,533.41 L126.95,532.58 L127.64,532.05 L128.30,531.67 L128.87,530.94 L129.42,529.98 L129.97,529.09 L130.50,528.44 L131.03,527.77 L131.54,527.14 L132.04,526.54 L132.54,526.07 L133.02,525.91 L133.50,525.80 L134.16,524.90 L134.80,523.72 L135.41,523.24 L136.01,523.12 L136.60,522.91 L137.20,522.62 L137.80,522.35 L138.63,521.93 L139.44,521.21 L140.25,520.45 L141.10,520.37 L142.00,520.58 L142.71,520.93 L143.47,521.47 L144.26,521.95 L145.06,521.82 L145.83,522.41 L146.55,523.50 L147.20,524.20 L147.76,524.75 L148.26,525.26 L148.71,525.78 L149.13,526.38 L149.54,526.84 L149.96,527.31 L150.40,527.99 L150.60,528.38 L150.79,529.21 L150.99,530.10 L151.18,531.03 L151.37,532.00 L151.56,533.00 L151.75,534.03 L151.94,535.00 L152.13,535.67 L152.33,536.35 L152.53,537.02 L152.73,537.69 L152.94,538.33 L153.15,538.95 L153.37,539.76 L153.60,540.60 L153.85,541.50 L154.12,542.42 L154.39,543.37 L154.68,544.33 L154.97,545.30 L155.26,546.27 L155.56,547.22 L155.85,548.16 L156.15,549.08 L156.44,549.97 L156.73,550.81 L157.01,551.60 L157.29,552.14 L157.55,552.53 L157.80,552.86 L158.62,553.90 L159.34,555.00 L160.07,555.27 L160.90,554.91 L161.67,554.57 L162.49,554.08 L163.36,553.62 L164.26,552.94 L165.20,552.18 L165.82,551.68 L166.47,551.15 L167.15,550.65 L167.83,550.31 L168.51,550.15 L169.18,549.90 L169.81,549.61 L170.40,548.96 L171.24,547.52 L172.00,546.76 L172.72,546.21 L173.44,546.52 L174.20,546.53 L174.88,545.68 L175.57,544.88 L176.28,544.23 L176.99,543.61 L177.70,543.08 L178.40,543.01 L179.22,543.42 L180.03,544.03 L180.84,544.46 L181.69,544.36 L182.60,544.10 L183.14,543.72 L183.70,543.00 L184.29,542.16 L184.88,541.91 L185.48,541.77 L186.09,540.81 L186.70,539.40 L187.31,538.49 L187.90,538.08 L188.43,537.70 L188.96,537.24 L189.49,536.77 L190.02,535.77 L190.56,534.64 L191.09,533.79 L191.62,533.48 L192.15,533.17 L192.67,532.68 L193.20,532.20 L193.78,531.54 L194.36,530.75 L194.94,530.06 L195.51,529.64 L196.09,529.22 L196.66,528.23 L197.24,527.20 L197.82,526.59 L198.40,526.09 L198.84,525.55 L199.29,524.75 L199.74,523.90 L200.20,523.25 L200.66,522.86 L201.11,522.47 L201.56,521.69 L202.01,520.65 L202.45,519.64 L202.88,518.90 L203.30,518.32 L203.70,517.79 L204.29,517.22 L204.86,516.76 L205.43,516.15 L205.97,515.32 L206.49,514.56 L206.99,514.05 L207.46,513.63 L207.90,513.25 L208.84,512.15 L209.61,512.12 L210.50,513.01 L210.85,513.58 L211.22,514.27 L211.59,515.07 L211.98,515.78 L212.39,516.50 L212.81,517.26 L213.25,518.06 L213.71,518.89 L214.20,519.71 L214.56,520.38 L214.93,521.14 L215.32,521.94 L215.73,522.72 L216.14,523.39 L216.56,524.07 L216.99,524.79 L217.42,525.70 L217.85,526.58 L218.27,527.46 L218.69,528.44 L219.10,529.37 L219.50,530.23 L220.13,531.09 L220.74,531.91 L221.34,532.49 L221.93,532.97 L222.53,533.43 L223.14,533.78 L223.76,533.96 L224.40,533.91 L225.00,533.66 L225.64,533.23 L226.30,532.80 L226.97,532.44 L227.63,532.09 L228.28,531.77 L228.90,531.20 L229.47,530.41 L230.00,529.49 L230.31,528.69 L230.59,527.84 L230.86,526.95 L231.11,526.02 L231.35,525.23 L231.58,524.49 L231.79,523.73 L232.01,522.94 L232.22,522.15 L232.42,521.36 L232.63,520.50 L232.85,519.62 L233.07,518.76 L233.30,517.92 L233.54,517.09 L233.78,516.24 L234.02,515.37 L234.27,514.49 L234.52,513.60 L234.76,512.72 L235.01,511.84 L235.25,510.99 L235.49,510.15 L235.72,509.33 L235.95,508.54 L236.18,507.77 L236.39,507.04 L236.60,506.37 L236.91,505.38 L237.21,504.43 L237.49,503.53 L237.77,502.64 L238.03,501.69 L238.29,500.80 L238.53,499.97 L238.77,499.20 L239.00,498.50 L239.46,497.54 L239.85,496.84 L240.24,496.44 L240.70,496.01 L241.43,496.13 L242.23,497.21 L243.10,497.94 L243.81,497.98 L244.57,497.61 L245.35,496.77 L246.10,495.41 L246.42,494.66 L246.75,493.81 L247.07,493.22 L247.40,492.63 L247.71,491.99 L248.03,491.32 L248.33,490.38 L248.62,489.37 L248.90,488.40 L249.14,487.45 L249.37,486.38 L249.60,485.29 L249.81,484.18 L250.02,483.10 L250.23,482.10 L250.43,481.22 L250.62,480.53 L250.81,480.01 L251.00,479.72 L251.18,479.70 L251.35,479.85 L251.51,480.18 L251.67,480.67 L251.82,481.33 L251.98,482.15 L252.13,483.28 L252.28,484.59 L252.44,486.04 L252.60,487.64 L252.66,488.25 L252.72,488.90 L252.78,489.59 L252.84,490.31 L252.90,491.06 L252.96,491.84 L253.02,492.65 L253.08,493.48 L253.14,494.33 L253.20,495.20 L253.27,496.09 L253.33,496.97 L253.39,497.83 L253.45,498.70 L253.51,499.58 L253.57,500.46 L253.63,501.35 L253.70,502.24 L253.76,503.13 L253.82,504.01 L253.88,504.89 L253.94,505.77 L254.00,506.63 L254.06,507.48 L254.12,508.32 L254.18,509.14 L254.24,509.95 L254.30,510.73 L254.36,511.56 L254.43,512.38 L254.49,513.21 L254.55,514.03 L254.61,514.86 L254.67,515.72 L254.73,516.59 L254.79,517.45 L254.85,518.31 L254.90,519.16 L254.96,520.02 L255.02,520.87 L255.08,521.72 L255.14,522.56 L255.20,523.41 L255.26,524.25 L255.32,525.09 L255.38,525.93 L255.44,526.76 L255.51,527.59 L255.57,528.43 L255.63,529.26 L255.70,530.08 L255.76,530.91 L255.83,531.73 L255.90,532.56 L255.98,533.40 L256.05,534.25 L256.13,535.11 L256.21,535.97 L256.28,536.84 L256.36,537.72 L256.44,538.59 L256.52,539.46 L256.60,540.33 L256.68,541.19 L256.77,542.05 L256.85,542.90 L256.93,543.74 L257.02,544.56 L257.10,545.38 L257.19,546.17 L257.28,547.00 L257.36,547.82 L257.45,548.62 L257.54,549.39 L257.63,550.14 L257.72,550.87 L257.81,551.56 L257.90,552.23 L258.08,553.49 L258.26,554.65 L258.43,555.73 L258.61,556.67 L258.79,557.49 L258.97,558.26 L259.16,558.97 L259.36,559.63 L259.57,560.25 L259.80,560.83 L260.04,561.48 L260.30,562.11 L260.79,563.10 L261.32,563.79 L261.90,564.12 L262.50,564.42 L263.12,565.09 L263.76,565.71 L264.40,566.19 L265.21,566.72 L266.09,567.17 L266.99,567.11 L267.86,567.16 L268.65,567.80 L269.30,568.13 L270.05,568.29 L271.20,568.15 L271.76,568.24 L272.42,568.55 L273.17,568.76 L273.99,568.85 L274.86,568.58 L275.76,568.43 L276.67,568.56 L277.58,568.29 L278.46,568.57 L279.30,569.30 L280.10,569.47 L280.90,569.44 L281.68,569.09 L282.47,569.18 L283.26,569.42 L284.05,569.50 L284.86,569.56 L285.68,569.60 L286.53,569.16 L287.40,569.02 L288.17,569.56 L288.99,569.57 L289.86,569.40 L290.75,569.45 L291.65,569.25 L292.54,569.08 L293.42,569.25 L294.26,569.36 L295.06,569.42 L295.79,569.28 L296.44,569.22 L297.00,569.28 L298.48,568.70 L299.19,568.76 L299.60,569.01" fill="none" stroke="#000" stroke-width="1.4" stroke-linejoin="round" stroke-linecap="round" />
<path d="M317.00,127.64 L317.58,127.61 L318.38,127.52 L319.33,127.06 L320.34,126.67 L321.36,126.33 L322.30,126.13 L323.17,126.83 L324.04,127.04 L324.90,127.01 L325.76,127.40 L326.63,127.35 L327.50,127.06 L328.38,127.36 L329.26,126.98 L330.14,126.42 L331.03,126.75 L331.92,126.76 L332.80,126.67 L333.56,126.62 L334.32,126.94 L335.08,127.52 L335.84,128.14 L336.59,128.65 L337.35,128.55 L338.10,128.56 L338.85,128.79 L339.59,128.77 L340.33,128.60 L341.07,127.77 L341.81,127.02 L342.55,127.16 L343.30,127.21 L344.18,127.08 L345.06,127.32 L345.94,127.43 L346.83,127.15 L347.72,127.13 L348.60,127.52 L349.48,128.43 L350.37,128.67 L351.26,128.70 L352.14,128.51 L353.02,128.26 L353.90,128.15 L354.77,128.08 L355.64,128.15 L356.50,127.69 L357.36,126.99 L358.23,127.32 L359.10,127.27 L359.85,127.06 L360.61,126.99 L361.36,127.19 L362.12,127.99 L362.88,128.43 L363.64,128.44 L364.40,128.89 L365.16,129.27 L365.92,129.04 L366.68,128.60 L367.44,127.90 L368.19,127.49 L368.95,127.27 L369.70,127.06 L370.57,126.91 L371.44,126.83 L372.30,126.83 L373.16,126.51 L374.03,125.39 L374.90,125.26 L375.79,125.32 L376.70,125.29 L377.61,124.74 L378.51,124.41 L379.38,124.40 L380.20,123.67 L381.11,123.49 L381.96,124.05 L382.77,123.54 L383.58,122.91 L384.40,122.12 L385.11,121.89 L385.84,121.80 L386.56,120.98 L387.27,120.09 L387.96,119.38 L388.60,118.78 L389.27,118.34 L389.85,117.81 L390.42,116.94 L391.04,116.12 L391.80,115.72 L392.59,115.69 L393.49,116.30 L394.46,116.29 L395.42,115.84 L396.32,115.09 L397.10,115.58 L397.86,115.36 L398.49,114.24 L399.06,113.31 L399.61,112.88 L400.20,112.55 L400.97,112.40 L401.73,112.02 L402.53,111.24 L403.40,110.66 L404.18,110.46 L405.01,110.77 L405.87,111.15 L406.74,111.52 L407.60,111.56 L408.46,112.17 L409.33,113.30 L410.19,112.63 L411.02,112.56 L411.80,112.94 L412.67,113.02 L413.47,112.61 L414.23,111.80 L415.00,111.78 L415.75,112.35 L416.48,112.04 L417.24,112.02 L418.10,113.26 L418.75,113.93 L419.45,114.40 L420.18,114.85 L420.93,115.29 L421.68,116.06 L422.40,116.73 L423.09,116.92 L423.77,117.27 L424.44,118.10 L425.13,118.80 L425.84,119.24 L426.60,119.52 L427.41,119.63 L428.26,119.90 L429.13,120.26 L430.02,120.77 L430.92,120.74 L431.80,120.61 L432.69,120.40 L433.60,121.12 L434.51,121.15 L435.41,120.75 L436.28,121.04 L437.10,121.45 L438.05,121.99 L438.98,121.85 L439.85,122.14 L440.64,122.54 L441.30,122.98 L442.08,123.41 L443.00,123.88 L443.68,123.82 L444.50,123.63 L445.43,123.55 L446.41,123.73 L447.38,124.17 L448.30,124.84 L449.05,124.49 L449.79,124.42 L450.53,124.91 L451.27,125.55 L452.01,126.30 L452.75,126.51 L453.50,126.47 L454.38,126.21 L455.26,126.16 L456.14,126.30 L457.03,126.19 L457.92,125.84 L458.80,125.39 L459.70,125.43 L460.61,125.23 L461.52,125.02 L462.41,125.22 L463.28,124.62 L464.10,124.01 L464.86,123.98 L465.58,123.94 L466.27,123.86 L466.94,123.53 L467.61,122.99 L468.30,122.02 L468.77,121.21 L469.25,120.49 L469.74,120.02 L470.22,119.50 L470.70,118.76 L471.17,117.86 L471.63,116.91 L472.08,116.07 L472.50,115.20 L472.78,114.55 L473.05,113.85 L473.32,113.11 L473.57,112.33 L473.83,111.52 L474.07,110.69 L474.31,109.85 L474.55,109.06 L474.79,108.27 L475.02,107.49 L475.25,106.73 L475.47,105.99 L475.70,105.26 L475.94,104.44 L476.19,103.60 L476.42,102.75 L476.66,101.89 L476.89,101.04 L477.12,100.01 L477.34,99.00 L477.56,98.04 L477.78,97.13 L477.99,96.28 L478.20,95.52 L478.40,94.92 L479.09,93.34 L479.71,92.79 L480.50,92.97 L481.32,92.97 L482.26,92.99 L483.23,93.28 L484.10,93.80 L484.70,94.01 L485.25,93.22 L485.77,92.22 L486.28,91.25 L486.80,90.08 L486.95,89.62 L487.09,89.10 L487.23,88.50 L487.36,87.78 L487.50,86.93 L487.63,86.03 L487.77,85.10 L487.90,84.15 L488.04,83.17 L488.17,82.19 L488.31,81.20 L488.46,80.21 L488.60,79.24 L488.75,78.44 L488.90,77.67 L489.06,76.94 L489.23,76.26 L489.40,75.63 L489.63,74.84 L489.88,74.04 L490.14,73.04 L490.41,72.03 L490.69,71.03 L490.97,70.05 L491.25,69.07 L491.53,67.94 L491.81,66.88 L492.09,65.90 L492.36,65.02 L492.62,64.38 L492.87,63.99 L493.10,63.73 L493.60,63.59 L494.05,64.17 L494.48,65.30 L494.88,66.75 L495.29,68.18 L495.70,69.44 L495.86,69.94 L496.02,70.49 L496.17,71.07 L496.33,71.69 L496.48,72.36 L496.64,73.08 L496.79,73.82 L496.94,74.59 L497.10,75.38 L497.25,76.19 L497.41,77.03 L497.56,77.88 L497.72,78.75 L497.88,79.72 L498.04,80.70 L498.20,81.69 L498.32,82.45 L498.45,83.24 L498.57,84.03 L498.69,84.85 L498.82,85.67 L498.94,86.51 L499.07,87.34 L499.19,88.15 L499.32,88.98 L499.44,89.81 L499.57,90.64 L499.70,91.48 L499.83,92.32 L499.96,93.17 L500.09,94.01 L500.22,94.85 L500.35,95.67 L500.49,96.45 L500.62,97.22 L500.76,97.99 L500.90,98.75 L501.04,99.51 L501.18,100.28 L501.32,101.07 L501.46,101.87 L501.61,102.67 L501.75,103.53 L501.89,104.39 L502.04,105.25 L502.18,106.10 L502.33,106.96 L502.48,107.80 L502.63,108.64 L502.79,109.46 L502.94,110.25 L503.10,110.98 L503.26,111.69 L503.42,112.37 L503.59,113.04 L503.75,113.67 L503.93,114.27 L504.10,114.84 L504.41,115.93 L504.73,117.03 L505.05,118.08 L505.39,119.07 L505.72,119.89 L506.07,120.59 L506.42,121.25 L506.78,121.87 L507.15,122.73 L507.52,123.58 L507.91,124.40 L508.30,125.08 L508.92,125.86 L509.57,126.44 L510.26,126.66 L510.95,127.07 L511.64,127.91 L512.33,128.31 L512.98,128.30 L513.60,128.50 L514.51,129.14 L515.36,130.21 L516.17,130.97 L516.98,131.12 L517.80,131.45 L518.49,131.56 L519.16,130.87 L519.83,130.05 L520.52,129.46 L521.24,128.90 L522.00,128.11 L522.76,128.13 L523.49,128.91 L524.26,128.89 L525.11,128.65 L526.10,129.57 L527.30,130.22 L527.93,130.36 L528.59,130.40 L529.28,130.42 L530.01,130.43 L530.76,130.16 L531.55,129.80 L532.37,130.03 L533.21,130.19 L534.08,130.27 L534.98,129.59 L535.90,129.70 L536.84,130.41 L537.80,130.32 L538.53,129.99 L539.29,129.51 L540.09,129.75 L540.92,129.74 L541.78,129.33 L542.65,129.04 L543.54,129.00 L544.43,129.35 L545.33,128.67 L546.23,128.58 L547.11,129.23 L547.98,129.32 L548.83,128.98 L549.66,128.25 L550.45,128.73 L551.21,128.89 L551.93,128.15 L552.60,128.04 L553.70,128.91 L554.69,128.35 L555.59,128.90 L556.42,129.42 L557.20,129.13 L557.95,129.39 L558.68,129.99 L559.42,129.56 L560.19,128.97 L561.00,129.05 L561.86,129.43 L562.76,130.02 L563.68,129.68 L564.61,129.36 L565.52,128.95 L566.41,128.24 L567.26,128.06 L568.05,128.05 L568.77,128.13 L569.40,128.13 L570.64,128.13 L571.52,129.61 L572.15,130.37 L572.60,130.63" fill="none" stroke="#000" stroke-width="1.4" stroke-linejoin="round" stroke-linecap="round" />
<path d="M317.00,232.44 L317.55,232.06 L318.32,231.52 L319.24,231.62 L320.22,231.10 L321.20,230.72 L321.88,231.23 L322.57,231.64 L323.28,231.90 L324.02,232.11 L324.80,232.24 L325.62,232.99 L326.50,233.19 L327.22,232.82 L327.98,232.92 L328.77,233.09 L329.59,232.58 L330.43,232.23 L331.28,232.06 L332.15,232.22 L333.02,232.46 L333.90,232.79 L334.70,232.12 L335.52,231.75 L336.35,231.87 L337.19,232.24 L338.04,232.67 L338.89,233.04 L339.75,232.90 L340.60,232.65 L341.46,232.54 L342.30,232.95 L343.14,233.33 L343.98,232.51 L344.82,232.75 L345.66,233.54 L346.50,233.09 L347.34,232.85 L348.18,232.78 L349.02,232.81 L349.86,232.91 L350.70,233.09 L351.55,233.51 L352.41,233.53 L353.28,232.79 L354.16,232.94 L355.03,233.08 L355.88,232.99 L356.73,232.63 L357.55,232.38 L358.34,232.42 L359.10,232.09 L360.00,231.54 L360.85,231.45 L361.67,231.45 L362.46,231.51 L363.22,231.85 L363.98,232.05 L364.74,231.76 L365.50,231.54 L366.36,231.38 L367.20,231.61 L368.02,231.73 L368.84,231.59 L369.67,231.38 L370.52,231.26 L371.40,231.53 L372.11,231.31 L372.84,230.89 L373.59,230.12 L374.34,229.42 L375.11,229.25 L375.87,228.91 L376.62,228.40 L377.37,228.17 L378.10,228.06 L378.91,227.51 L379.73,226.88 L380.54,226.09 L381.34,226.15 L382.13,226.17 L382.90,225.01 L383.66,224.32 L384.40,224.11 L385.11,223.87 L385.80,223.59 L386.46,222.67 L387.11,221.62 L387.76,221.17 L388.40,220.82 L389.04,219.98 L389.70,219.06 L390.36,218.84 L391.00,218.73 L391.64,218.28 L392.29,217.77 L392.94,217.09 L393.60,216.39 L394.29,216.03 L395.00,215.76 L395.66,214.88 L396.35,214.04 L397.07,213.91 L397.79,213.69 L398.52,213.19 L399.24,212.74 L399.95,212.36 L400.64,211.96 L401.30,211.56 L402.23,211.44 L403.11,211.33 L403.96,211.10 L404.80,210.50 L405.64,210.13 L406.50,210.40 L407.15,210.35 L407.79,210.27 L408.44,210.91 L409.08,211.92 L409.73,212.62 L410.40,213.12 L411.09,213.80 L411.80,214.50 L412.54,214.73 L413.30,214.79 L414.08,214.51 L414.88,214.50 L415.69,214.80 L416.49,215.28 L417.30,215.62 L418.10,215.41 L418.81,215.81 L419.52,216.65 L420.23,217.09 L420.94,217.40 L421.66,217.92 L422.37,218.47 L423.08,218.99 L423.79,219.67 L424.50,220.77 L425.20,221.38 L425.89,221.38 L426.57,221.70 L427.25,222.28 L427.93,222.87 L428.62,223.45 L429.33,224.21 L430.05,225.04 L430.80,224.82 L431.59,224.71 L432.41,225.39 L433.27,225.87 L434.13,226.29 L435.00,226.89 L435.86,227.22 L436.68,227.43 L437.47,227.74 L438.20,227.84 L439.03,227.68 L439.76,228.09 L440.44,228.63 L441.09,229.03 L441.77,229.38 L442.53,230.16 L443.40,230.80 L444.08,230.99 L444.81,230.74 L445.58,230.09 L446.37,230.04 L447.19,230.10 L448.03,230.16 L448.88,230.18 L449.72,230.22 L450.57,230.47 L451.40,230.64 L452.25,230.73 L453.14,230.40 L454.05,230.09 L454.97,229.94 L455.89,230.37 L456.79,230.42 L457.65,230.44 L458.47,230.62 L459.22,230.91 L459.90,231.24 L461.02,231.12 L461.89,231.18 L462.63,231.28 L463.33,231.43 L464.10,231.29 L464.70,230.96 L465.31,230.43 L465.92,229.39 L466.53,228.30 L467.13,228.11 L467.72,227.83 L468.30,226.93 L468.66,226.29 L469.02,225.64 L469.37,225.05 L469.72,224.46 L470.07,223.83 L470.41,223.16 L470.75,222.36 L471.09,221.50 L471.43,220.56 L471.76,219.51 L472.10,218.26 L472.28,217.55 L472.45,216.81 L472.63,216.02 L472.81,215.19 L472.98,214.34 L473.16,213.53 L473.33,212.71 L473.51,211.87 L473.68,211.02 L473.86,210.15 L474.03,209.28 L474.20,208.40 L474.37,207.50 L474.54,206.57 L474.71,205.65 L474.88,204.75 L475.05,203.86 L475.21,203.00 L475.38,202.16 L475.54,201.35 L475.70,200.67 L475.91,199.87 L476.12,199.08 L476.32,198.30 L476.52,197.52 L476.73,196.75 L476.93,195.97 L477.12,194.98 L477.32,194.01 L477.51,193.07 L477.70,192.16 L477.89,191.28 L478.08,190.43 L478.26,189.67 L478.44,189.02 L478.62,188.41 L478.80,187.85 L479.24,186.56 L479.64,185.57 L480.03,184.84 L480.42,184.29 L480.84,183.87 L481.30,183.44 L482.11,183.16 L483.00,183.53 L483.89,183.66 L484.70,183.23 L485.26,182.85 L485.76,182.44 L486.24,181.88 L486.71,180.99 L487.20,179.56 L487.34,179.03 L487.48,178.43 L487.61,177.78 L487.75,177.08 L487.88,176.34 L488.01,175.56 L488.15,174.75 L488.28,173.91 L488.42,173.04 L488.56,172.16 L488.70,171.28 L488.84,170.42 L488.99,169.54 L489.14,168.66 L489.30,167.77 L489.46,166.90 L489.63,166.02 L489.80,165.17 L489.95,164.40 L490.10,163.50 L490.26,162.54 L490.43,161.53 L490.60,160.48 L490.77,159.41 L490.94,158.31 L491.12,157.20 L491.30,156.24 L491.49,155.39 L491.67,154.55 L491.85,153.75 L492.04,152.98 L492.22,152.26 L492.40,151.59 L492.58,150.88 L492.76,150.11 L492.94,149.43 L493.11,148.85 L493.28,148.36 L493.44,147.98 L493.60,147.73 L493.83,147.56 L494.05,147.57 L494.27,147.77 L494.48,148.15 L494.70,148.68 L494.90,149.34 L495.11,150.13 L495.31,151.13 L495.52,152.19 L495.71,153.30 L495.91,154.43 L496.11,155.57 L496.31,156.68 L496.50,157.75 L496.70,158.76 L496.84,159.46 L496.98,160.16 L497.12,160.88 L497.26,161.60 L497.39,162.34 L497.53,163.09 L497.67,163.85 L497.80,164.61 L497.94,165.38 L498.07,166.16 L498.20,166.95 L498.34,167.76 L498.47,168.59 L498.60,169.42 L498.73,170.27 L498.86,171.14 L498.99,172.02 L499.12,172.88 L499.25,173.76 L499.37,174.65 L499.50,175.56 L499.59,176.23 L499.68,176.92 L499.77,177.63 L499.85,178.35 L499.94,179.08 L500.02,179.83 L500.11,180.59 L500.19,181.36 L500.27,182.14 L500.36,182.99 L500.44,183.88 L500.52,184.77 L500.60,185.67 L500.68,186.58 L500.77,187.48 L500.85,188.39 L500.93,189.30 L501.01,190.21 L501.10,191.12 L501.18,192.02 L501.27,192.93 L501.35,193.83 L501.44,194.73 L501.53,195.62 L501.62,196.49 L501.71,197.30 L501.81,198.11 L501.90,198.91 L502.00,199.69 L502.11,200.56 L502.22,201.44 L502.33,202.33 L502.44,203.22 L502.56,204.12 L502.67,205.01 L502.78,205.91 L502.90,206.81 L503.02,207.61 L503.13,208.41 L503.25,209.21 L503.37,209.99 L503.49,210.77 L503.62,211.54 L503.74,212.30 L503.86,213.04 L503.99,213.77 L504.12,214.48 L504.25,215.21 L504.38,215.97 L504.51,216.71 L504.65,217.43 L504.78,218.12 L504.92,218.80 L505.06,219.45 L505.20,220.07 L505.46,221.16 L505.73,222.08 L506.00,222.91 L506.27,223.68 L506.54,224.40 L506.82,225.07 L507.11,225.81 L507.40,226.51 L507.70,227.17 L508.02,227.80 L508.34,228.45 L508.68,229.11 L509.03,229.74 L509.40,230.36 L510.00,231.04 L510.64,231.60 L511.30,232.51 L512.00,233.40 L512.71,233.22 L513.44,233.07 L514.19,233.23 L514.94,233.79 L515.70,234.86 L516.47,235.03 L517.25,234.82 L518.05,234.59 L518.86,234.65 L519.68,235.09 L520.52,234.77 L521.37,234.62 L522.23,235.17 L523.10,235.71 L523.88,236.07 L524.65,236.06 L525.41,236.02 L526.19,235.96 L526.98,235.68 L527.79,235.46 L528.64,235.62 L529.54,235.55 L530.49,235.61 L531.50,236.31 L532.22,236.08 L532.97,235.92 L533.75,236.08 L534.56,235.87 L535.39,235.35 L536.23,235.15 L537.10,235.26 L537.97,235.75 L538.85,235.84 L539.74,235.77 L540.62,235.55 L541.51,235.43 L542.38,235.35 L543.25,235.30 L544.10,235.20 L544.94,234.89 L545.76,234.41 L546.58,234.67 L547.40,234.82 L548.21,234.70 L549.02,234.48 L549.84,234.28 L550.66,234.33 L551.49,234.53 L552.33,234.82 L553.19,234.85 L554.06,235.11 L554.95,235.58 L555.86,235.87 L556.80,235.63 L557.58,235.26 L558.41,235.72 L559.29,235.96 L560.20,235.98 L561.14,235.92 L562.10,235.41 L563.07,234.90 L564.04,234.72 L565.01,234.69 L565.97,234.63 L566.90,234.57 L567.81,234.55 L568.67,234.89 L569.49,235.20 L570.26,235.41 L570.96,235.43 L571.59,235.36 L572.14,235.19 L572.60,234.98" fill="none" stroke="#000" stroke-width="1.4" stroke-linejoin="round" stroke-linecap="round" />
<path d="M317.00,339.29 L317.58,339.91 L318.38,340.65 L319.33,339.97 L320.34,340.41 L321.36,340.62 L322.30,340.10 L323.16,340.18 L324.00,340.49 L324.83,340.92 L325.68,339.90 L326.57,339.57 L327.50,339.89 L328.24,339.78 L329.02,339.79 L329.82,339.95 L330.63,340.16 L331.45,340.32 L332.28,340.19 L333.10,340.56 L333.90,341.20 L334.81,340.37 L335.71,339.98 L336.61,339.89 L337.51,339.46 L338.40,339.36 L339.30,339.45 L340.20,339.53 L341.08,339.98 L341.94,340.29 L342.79,339.93 L343.65,339.77 L344.55,339.77 L345.49,340.05 L346.50,340.90 L347.25,340.87 L348.04,340.01 L348.86,340.24 L349.70,340.55 L350.56,340.26 L351.43,340.34 L352.31,340.42 L353.18,340.04 L354.05,340.17 L354.90,340.34 L355.76,340.11 L356.63,340.13 L357.51,340.28 L358.40,340.50 L359.28,340.27 L360.15,339.88 L361.01,339.40 L361.84,339.21 L362.64,339.24 L363.40,339.96 L364.43,339.97 L365.39,339.46 L366.31,339.10 L367.19,339.68 L368.04,339.88 L368.88,339.38 L369.70,339.24 L370.50,339.10 L371.26,338.90 L372.00,338.30 L372.72,337.38 L373.44,336.87 L374.16,336.50 L374.90,336.51 L375.64,336.33 L376.38,335.27 L377.11,334.70 L377.85,334.80 L378.61,334.15 L379.39,333.12 L380.20,333.24 L380.95,333.24 L381.73,332.92 L382.53,332.76 L383.35,332.66 L384.17,332.23 L384.97,331.70 L385.75,331.04 L386.50,330.39 L387.22,329.74 L387.94,329.26 L388.65,328.85 L389.34,328.69 L390.01,328.41 L390.65,327.93 L391.24,327.39 L391.80,326.66 L392.58,325.77 L393.24,325.59 L393.83,325.20 L394.40,324.30 L395.00,323.61 L396.00,323.92 L396.99,324.15 L398.10,323.89 L398.75,323.53 L399.46,322.77 L400.19,321.85 L400.93,321.39 L401.65,320.93 L402.30,320.39 L403.16,320.11 L403.93,320.23 L404.68,320.22 L405.50,319.97 L406.11,319.84 L406.77,319.51 L407.44,318.84 L408.11,318.12 L408.73,317.10 L409.30,316.41 L410.04,316.86 L410.68,317.71 L411.26,318.46 L411.80,319.13 L412.41,320.39 L412.93,321.67 L413.50,322.55 L414.37,322.44 L415.60,321.23 L416.11,321.55 L416.68,322.36 L417.30,323.06 L417.97,323.30 L418.68,323.62 L419.43,324.03 L420.20,325.00 L420.83,326.04 L421.48,326.47 L422.17,326.68 L422.87,327.05 L423.60,327.46 L424.33,328.23 L425.08,328.89 L425.84,329.22 L426.60,329.68 L427.30,330.22 L428.03,330.67 L428.79,331.07 L429.55,331.40 L430.32,331.77 L431.08,332.25 L431.83,332.47 L432.55,332.51 L433.25,332.61 L433.90,332.72 L434.91,333.03 L435.86,333.30 L436.74,333.60 L437.59,334.20 L438.40,334.47 L439.20,334.59 L440.08,335.43 L440.88,335.95 L441.65,336.12 L442.47,336.66 L443.40,337.31 L444.15,337.81 L444.95,337.57 L445.79,337.03 L446.65,337.23 L447.54,337.52 L448.42,337.89 L449.30,338.34 L450.16,338.75 L451.01,339.14 L451.86,339.50 L452.73,339.51 L453.63,339.39 L454.58,340.18 L455.60,339.51 L456.38,339.25 L457.23,340.08 L458.13,339.71 L459.06,339.57 L460.00,340.26 L460.93,339.30 L461.82,339.41 L462.66,340.12 L463.43,339.79 L464.10,339.54 L465.01,339.41 L465.73,338.78 L466.32,337.99 L466.85,337.13 L467.39,336.12 L468.00,335.20 L468.37,334.98 L468.76,334.73 L469.15,334.37 L469.55,333.45 L469.95,332.49 L470.34,331.49 L470.73,330.52 L471.12,329.52 L471.49,328.48 L471.85,327.55 L472.20,326.78 L472.41,326.24 L472.62,325.68 L472.83,325.09 L473.03,324.46 L473.22,323.69 L473.41,322.89 L473.60,322.08 L473.78,321.25 L473.97,320.41 L474.15,319.55 L474.33,318.68 L474.50,317.82 L474.68,316.94 L474.86,316.06 L475.04,315.17 L475.22,314.27 L475.40,313.37 L475.55,312.61 L475.69,311.79 L475.84,310.92 L475.98,310.02 L476.13,309.11 L476.27,308.17 L476.41,307.22 L476.56,306.27 L476.70,305.31 L476.84,304.36 L476.98,303.44 L477.12,302.55 L477.27,301.68 L477.41,300.83 L477.55,300.01 L477.69,299.22 L477.83,298.47 L477.97,297.76 L478.12,297.10 L478.26,296.51 L478.40,296.04 L478.82,294.88 L479.24,294.04 L479.65,293.36 L480.07,292.71 L480.50,292.19 L480.94,291.72 L481.40,291.20 L482.29,290.79 L483.25,291.39 L484.18,291.94 L485.00,291.83 L485.38,291.45 L485.70,291.05 L485.99,290.55 L486.26,289.83 L486.54,288.88 L486.85,287.62 L487.20,285.99 L487.32,285.39 L487.44,284.77 L487.57,284.09 L487.70,283.36 L487.83,282.59 L487.96,281.78 L488.10,280.93 L488.24,280.06 L488.38,279.17 L488.52,278.25 L488.67,277.33 L488.81,276.39 L488.96,275.46 L489.10,274.52 L489.25,273.59 L489.39,272.67 L489.54,271.76 L489.69,270.87 L489.83,270.00 L489.98,269.16 L490.12,268.34 L490.26,267.55 L490.40,266.81 L490.60,265.76 L490.80,264.68 L491.00,263.57 L491.20,262.46 L491.41,261.38 L491.61,260.32 L491.81,259.29 L492.01,258.31 L492.21,257.38 L492.41,256.51 L492.61,255.77 L492.81,255.15 L493.01,254.64 L493.21,254.24 L493.41,253.98 L493.60,253.86 L493.84,253.92 L494.08,254.09 L494.33,254.47 L494.57,255.04 L494.82,255.75 L495.06,256.58 L495.30,257.72 L495.54,258.93 L495.76,260.16 L495.99,261.37 L496.20,262.51 L496.41,263.55 L496.60,264.33 L496.83,265.23 L497.05,266.08 L497.25,266.90 L497.44,267.71 L497.62,268.50 L497.79,269.29 L497.96,270.10 L498.14,270.93 L498.31,271.80 L498.50,272.72 L498.64,273.44 L498.78,274.12 L498.92,274.79 L499.06,275.42 L499.19,276.01 L499.33,276.63 L499.46,277.29 L499.60,277.99 L499.75,278.76 L499.90,279.61 L500.06,280.54 L500.22,281.57 L500.40,282.82 L500.48,283.47 L500.57,284.14 L500.65,284.84 L500.74,285.57 L500.82,286.32 L500.91,287.10 L501.00,287.89 L501.09,288.71 L501.19,289.54 L501.28,290.39 L501.37,291.26 L501.47,292.14 L501.57,293.03 L501.66,293.91 L501.76,294.79 L501.86,295.67 L501.96,296.56 L502.06,297.45 L502.16,298.35 L502.26,299.24 L502.37,300.14 L502.47,301.02 L502.57,301.91 L502.68,302.79 L502.78,303.66 L502.89,304.52 L502.99,305.32 L503.09,306.11 L503.20,306.88 L503.31,307.65 L503.41,308.44 L503.52,309.23 L503.62,310.03 L503.73,310.85 L503.84,311.67 L503.95,312.49 L504.05,313.32 L504.16,314.15 L504.27,315.08 L504.38,316.06 L504.49,317.04 L504.61,318.02 L504.72,318.99 L504.83,319.95 L504.95,320.91 L505.06,321.86 L505.17,322.79 L505.29,323.71 L505.41,324.62 L505.53,325.48 L505.64,326.21 L505.76,326.92 L505.88,327.60 L506.00,328.27 L506.13,328.91 L506.25,329.52 L506.37,330.10 L506.50,330.66 L506.78,331.81 L507.05,332.84 L507.33,333.78 L507.61,334.63 L507.89,335.40 L508.17,336.14 L508.47,336.92 L508.77,337.65 L509.08,338.33 L509.41,338.97 L509.76,339.30 L510.12,339.60 L510.50,339.87 L511.14,340.46 L511.79,341.00 L512.47,341.56 L513.19,342.08 L513.96,342.49 L514.79,342.80 L515.70,342.86 L516.70,342.43 L517.37,342.30 L518.09,342.90 L518.85,343.39 L519.64,343.74 L520.46,343.73 L521.30,343.70 L522.16,343.92 L523.03,344.05 L523.90,343.94 L524.77,343.21 L525.63,343.09 L526.48,343.22 L527.30,343.48 L528.10,343.84 L528.88,344.25 L529.64,343.76 L530.40,343.51 L531.15,344.01 L531.91,344.21 L532.67,344.13 L533.45,343.86 L534.26,343.62 L535.09,343.71 L535.95,343.94 L536.85,344.18 L537.80,343.97 L538.51,343.62 L539.23,343.18 L539.96,343.52 L540.70,343.81 L541.45,343.20 L542.22,342.88 L543.00,342.99 L543.80,343.38 L544.61,343.79 L545.43,343.64 L546.27,343.25 L547.12,342.69 L547.99,342.62 L548.88,342.75 L549.78,343.05 L550.70,343.26 L551.64,343.21 L552.60,343.16 L553.32,343.37 L554.08,343.34 L554.89,343.15 L555.72,343.25 L556.59,343.22 L557.48,343.01 L558.39,342.78 L559.31,342.72 L560.25,342.81 L561.19,342.91 L562.13,342.98 L563.06,343.16 L563.99,343.52 L564.90,342.97 L565.79,342.62 L566.66,342.51 L567.50,343.18 L568.30,343.30 L569.07,342.91 L569.80,342.97 L570.47,343.11 L571.10,342.93 L571.66,342.75 L572.16,343.01 L572.60,343.38" fill="none" stroke="#000" stroke-width="1.4" stroke-linejoin="round" stroke-linecap="round" />
<path d="M317.00,447.64 L317.59,447.37 L318.43,446.92 L319.39,446.31 L320.36,446.61 L321.20,446.65 L322.05,446.02 L322.80,446.68 L323.55,447.55 L324.40,448.11 L325.18,447.74 L326.01,446.53 L326.87,446.37 L327.74,446.28 L328.60,446.17 L329.44,445.87 L330.28,446.04 L331.12,446.88 L331.96,447.61 L332.80,447.95 L333.64,447.44 L334.48,446.98 L335.32,446.48 L336.16,445.43 L337.00,445.13 L337.70,445.53 L338.40,446.09 L339.10,446.79 L339.80,447.91 L340.50,448.86 L341.20,449.49 L341.91,449.54 L342.64,448.85 L343.36,448.21 L344.07,447.75 L344.76,447.08 L345.40,446.52 L346.25,446.69 L347.00,447.13 L347.75,446.98 L348.60,447.19 L349.23,447.73 L349.89,448.50 L350.57,449.38 L351.28,450.03 L352.02,450.43 L352.80,450.29 L353.51,449.84 L354.27,449.10 L355.05,448.40 L355.85,447.92 L356.63,447.30 L357.39,446.80 L358.10,446.63 L358.99,447.05 L359.81,448.03 L360.59,448.23 L361.41,448.53 L362.30,449.52 L363.12,449.60 L363.99,449.15 L364.89,447.93 L365.80,447.63 L366.71,447.63 L367.60,447.67 L368.36,447.50 L369.12,447.55 L369.89,448.34 L370.65,449.18 L371.39,449.99 L372.11,449.90 L372.80,449.31 L373.55,449.32 L374.23,449.15 L374.89,448.13 L375.56,447.10 L376.25,446.78 L377.00,446.59 L377.69,446.49 L378.40,446.10 L379.14,445.25 L379.90,444.68 L380.68,444.24 L381.48,444.00 L382.30,443.83 L382.96,443.84 L383.65,443.42 L384.36,442.57 L385.09,442.03 L385.81,441.65 L386.54,441.52 L387.25,441.45 L387.94,441.40 L388.60,441.27 L389.41,440.46 L390.19,439.95 L390.94,439.71 L391.68,439.65 L392.41,439.59 L393.15,438.79 L393.90,438.10 L394.49,437.97 L395.08,437.68 L395.67,436.79 L396.26,435.87 L396.85,435.47 L397.44,435.11 L398.03,434.73 L398.62,434.38 L399.20,433.67 L399.95,432.33 L400.69,431.84 L401.43,431.81 L402.17,431.47 L402.91,431.05 L403.65,430.28 L404.40,429.72 L405.15,429.45 L405.91,429.56 L406.66,429.86 L407.42,429.58 L408.18,429.12 L408.94,428.10 L409.70,427.80 L410.58,428.22 L411.47,428.37 L412.36,428.06 L413.24,427.34 L414.12,427.67 L415.00,427.44 L415.87,426.78 L416.74,426.85 L417.60,426.91 L418.46,427.02 L419.33,426.93 L420.20,427.24 L420.78,427.74 L421.37,428.04 L421.96,428.25 L422.55,428.81 L423.14,429.76 L423.73,430.71 L424.32,431.71 L424.91,432.55 L425.50,432.65 L426.26,432.47 L427.02,432.13 L427.78,431.63 L428.54,431.09 L429.29,430.92 L430.05,431.06 L430.80,430.60 L431.67,430.19 L432.54,429.84 L433.40,430.67 L434.26,431.44 L435.13,431.36 L436.00,431.73 L436.76,432.09 L437.52,432.28 L438.29,432.68 L439.05,433.29 L439.81,433.63 L440.56,433.85 L441.30,433.92 L442.16,434.21 L443.03,434.84 L443.89,434.45 L444.71,434.44 L445.49,435.15 L446.20,435.09 L446.92,434.89 L447.52,435.83 L448.07,436.93 L448.64,437.74 L449.30,438.25 L450.07,438.51 L450.90,438.59 L451.77,439.12 L452.64,439.24 L453.50,438.92 L454.37,439.38 L455.28,439.25 L456.16,438.69 L456.99,438.31 L457.70,438.45 L458.55,439.50 L459.17,439.92 L459.90,440.22 L460.46,440.82 L461.07,441.70 L461.71,442.80 L462.36,443.78 L463.00,443.81 L463.45,443.23 L463.91,442.35 L464.37,441.67 L464.83,440.89 L465.29,440.00 L465.75,438.85 L466.20,437.88 L466.82,437.33 L467.44,437.45 L468.06,437.19 L468.68,436.15 L469.30,434.69 L469.51,434.12 L469.72,433.49 L469.93,432.81 L470.15,432.09 L470.36,431.32 L470.57,430.74 L470.79,430.18 L471.00,429.59 L471.22,428.97 L471.43,428.34 L471.64,427.70 L471.86,426.73 L472.07,425.64 L472.29,424.55 L472.50,423.47 L472.68,422.55 L472.86,421.60 L473.03,420.67 L473.21,419.98 L473.39,419.27 L473.57,418.54 L473.75,417.81 L473.93,417.07 L474.11,416.33 L474.28,415.60 L474.46,414.74 L474.64,413.88 L474.82,413.05 L475.00,412.25 L475.17,411.48 L475.35,410.75 L475.52,410.07 L475.70,409.39 L476.04,408.09 L476.37,406.93 L476.70,405.90 L477.02,404.93 L477.35,403.97 L477.69,403.06 L478.04,402.15 L478.41,401.38 L478.80,400.70 L479.28,399.91 L479.80,399.16 L480.34,398.45 L480.89,397.78 L481.45,397.17 L481.99,396.62 L482.52,396.15 L483.00,395.76 L483.87,395.71 L484.66,396.23 L485.42,395.58 L486.20,393.73 L486.35,393.22 L486.50,392.64 L486.65,392.00 L486.80,391.30 L486.95,390.56 L487.10,389.76 L487.25,388.93 L487.40,388.14 L487.55,387.35 L487.69,386.54 L487.84,385.72 L487.99,384.88 L488.14,384.03 L488.30,383.19 L488.45,382.34 L488.60,381.51 L488.76,380.54 L488.92,379.59 L489.08,378.66 L489.24,377.76 L489.40,376.90 L489.58,375.94 L489.77,374.93 L489.96,373.91 L490.16,372.92 L490.36,371.90 L490.56,370.88 L490.76,369.86 L490.96,368.85 L491.16,367.86 L491.36,367.00 L491.57,366.20 L491.77,365.45 L491.97,364.77 L492.16,364.15 L492.36,363.60 L492.55,363.13 L492.74,362.70 L492.92,362.38 L493.10,362.18 L493.40,362.06 L493.68,362.16 L493.95,362.35 L494.21,362.65 L494.47,363.14 L494.72,363.81 L494.98,364.66 L495.24,365.82 L495.52,367.28 L495.80,368.87 L496.10,370.59 L496.20,371.19 L496.30,371.81 L496.41,372.47 L496.51,373.13 L496.62,373.83 L496.73,374.55 L496.84,375.29 L496.95,376.06 L497.07,376.84 L497.18,377.65 L497.29,378.48 L497.41,379.32 L497.53,380.18 L497.64,381.05 L497.76,381.92 L497.88,382.79 L497.99,383.66 L498.11,384.55 L498.23,385.44 L498.35,386.34 L498.46,387.24 L498.58,388.15 L498.69,389.05 L498.81,389.96 L498.92,390.86 L499.04,391.74 L499.15,392.58 L499.26,393.41 L499.37,394.23 L499.48,395.05 L499.59,395.85 L499.69,396.65 L499.80,397.43 L499.90,398.20 L500.00,398.97 L500.10,399.74 L500.20,400.53 L500.30,401.33 L500.39,402.22 L500.49,403.13 L500.58,404.04 L500.68,404.96 L500.77,405.88 L500.86,406.80 L500.95,407.72 L501.04,408.64 L501.13,409.56 L501.22,410.48 L501.31,411.39 L501.40,412.30 L501.49,413.21 L501.58,414.11 L501.66,414.91 L501.75,415.68 L501.84,416.43 L501.93,417.18 L502.01,417.91 L502.10,418.64 L502.19,419.35 L502.28,420.05 L502.37,420.73 L502.46,421.40 L502.55,422.05 L502.63,422.68 L502.73,423.30 L502.82,423.89 L502.91,424.48 L503.00,425.17 L503.17,426.42 L503.35,427.64 L503.52,428.81 L503.69,429.94 L503.85,431.03 L504.02,432.08 L504.19,433.09 L504.36,433.97 L504.53,434.81 L504.70,435.61 L504.88,436.37 L505.06,437.10 L505.24,437.79 L505.42,438.45 L505.61,439.08 L505.80,439.69 L506.00,440.26 L506.20,440.80 L506.83,442.04 L507.49,442.45 L508.17,442.52 L508.88,442.42 L509.62,442.43 L510.40,442.84 L511.01,443.46 L511.65,444.30 L512.31,444.87 L512.98,445.11 L513.66,445.70 L514.35,446.61 L515.03,447.04 L515.70,447.20 L516.29,447.97 L516.88,449.11 L517.47,449.91 L518.06,450.26 L518.65,450.65 L519.24,451.15 L519.83,451.58 L520.42,452.12 L521.00,452.49 L521.75,452.80 L522.49,452.85 L523.23,452.58 L523.97,452.13 L524.71,451.49 L525.45,450.87 L526.20,450.33 L527.09,450.25 L528.00,450.27 L528.91,450.39 L529.81,449.67 L530.68,449.52 L531.50,449.86 L532.39,449.14 L533.21,449.62 L533.99,451.05 L534.81,451.61 L535.70,451.76 L536.52,451.58 L537.39,451.58 L538.29,451.60 L539.20,451.59 L540.11,451.85 L541.00,451.52 L541.74,450.58 L542.46,450.45 L543.17,450.52 L543.89,450.05 L544.63,449.58 L545.40,449.11 L546.20,449.10 L546.94,449.55 L547.72,449.87 L548.52,450.13 L549.33,449.95 L550.15,450.39 L550.98,451.29 L551.80,451.31 L552.60,451.24 L553.39,451.15 L554.18,450.98 L554.97,450.66 L555.76,449.69 L556.54,449.16 L557.33,449.24 L558.11,448.87 L558.90,448.57 L559.79,449.07 L560.67,448.94 L561.54,448.70 L562.42,449.55 L563.32,449.92 L564.24,450.01 L565.20,450.00 L566.01,450.20 L566.91,450.03 L567.86,449.05 L568.82,449.52 L569.76,449.67 L570.64,449.60 L571.43,449.57 L572.10,449.42 L572.60,449.22" fill="none" stroke="#000" stroke-width="1.4" stroke-linejoin="round" stroke-linecap="round" />
<path d="M317.00,555.31 L317.58,555.16 L318.38,554.96 L319.33,555.03 L320.34,554.66 L321.36,554.69 L322.30,555.27 L323.20,555.31 L324.12,555.25 L325.04,555.06 L325.93,554.68 L326.76,555.03 L327.50,555.51 L328.42,555.92 L329.17,556.65 L329.86,557.32 L330.60,558.11 L331.20,558.37 L331.76,557.93 L332.35,557.27 L333.04,556.16 L333.90,554.82 L334.66,555.44 L335.53,555.88 L336.47,555.69 L337.45,555.56 L338.43,555.52 L339.36,555.62 L340.20,555.97 L341.09,555.70 L341.92,555.29 L342.71,555.13 L343.47,554.86 L344.19,554.60 L344.90,554.18 L345.68,554.04 L346.38,555.01 L347.05,556.00 L347.77,556.73 L348.60,557.22 L349.36,557.39 L350.16,557.24 L350.99,556.92 L351.89,556.38 L352.85,556.24 L353.90,556.33 L354.65,556.47 L355.45,557.18 L356.29,557.47 L357.16,556.83 L358.05,556.77 L358.96,557.02 L359.87,557.60 L360.79,557.05 L361.70,556.96 L362.54,557.25 L363.41,557.24 L364.32,557.10 L365.23,556.99 L366.14,557.68 L367.03,558.17 L367.90,558.34 L368.73,557.79 L369.50,557.69 L370.20,557.78 L371.22,557.96 L372.09,557.73 L372.86,557.23 L373.57,557.38 L374.27,557.53 L375.00,557.59 L375.84,557.48 L376.59,557.10 L377.36,556.71 L378.23,556.32 L379.30,556.30 L379.94,555.63 L380.66,554.75 L381.44,554.76 L382.26,554.63 L383.09,554.09 L383.94,553.85 L384.77,553.58 L385.57,552.80 L386.32,552.62 L387.00,552.86 L388.03,551.97 L388.97,551.30 L389.84,551.09 L390.66,551.40 L391.44,551.47 L392.20,551.24 L393.03,550.43 L393.75,549.54 L394.44,549.01 L395.17,548.42 L396.00,547.68 L396.68,547.19 L397.41,546.77 L398.17,546.53 L398.96,546.30 L399.75,545.40 L400.53,544.63 L401.30,544.04 L401.95,543.71 L402.60,543.43 L403.25,542.81 L403.90,542.03 L404.55,541.66 L405.20,541.49 L405.85,541.18 L406.50,540.84 L407.24,540.36 L407.98,539.85 L408.71,539.15 L409.45,538.51 L410.21,538.01 L410.99,537.63 L411.80,537.39 L412.55,536.82 L413.35,536.37 L414.18,536.82 L415.01,536.66 L415.84,536.14 L416.64,536.01 L417.40,535.85 L418.10,535.65 L419.09,536.00 L419.97,536.59 L420.78,537.11 L421.58,537.46 L422.40,537.79 L423.09,538.56 L423.77,539.23 L424.44,539.54 L425.13,539.77 L425.84,539.83 L426.60,540.14 L427.41,540.72 L428.26,541.39 L429.13,541.75 L430.02,541.57 L430.92,541.76 L431.80,541.60 L432.69,540.95 L433.60,541.14 L434.51,540.99 L435.41,540.64 L436.28,540.35 L437.10,540.26 L437.98,540.44 L438.78,540.89 L439.55,541.36 L440.37,541.75 L441.30,542.11 L442.07,542.26 L442.91,542.23 L443.80,542.67 L444.70,543.34 L445.59,544.19 L446.43,544.11 L447.20,543.99 L448.00,544.06 L448.73,544.37 L449.41,544.82 L450.06,545.56 L450.72,546.38 L451.40,546.57 L452.24,546.43 L453.08,546.66 L453.91,546.85 L454.75,547.08 L455.60,547.73 L456.31,548.50 L457.03,549.50 L457.75,550.13 L458.47,550.30 L459.19,550.64 L459.90,550.94 L460.76,551.08 L461.64,551.08 L462.50,551.01 L463.33,550.77 L464.10,550.59 L464.95,550.64 L465.71,550.59 L466.44,550.30 L467.20,549.34 L467.55,548.75 L467.90,548.11 L468.26,547.38 L468.62,546.58 L468.97,545.73 L469.33,544.93 L469.69,544.14 L470.04,543.27 L470.40,542.32 L470.60,541.76 L470.80,541.15 L471.00,540.52 L471.20,539.85 L471.40,539.15 L471.60,538.43 L471.81,537.57 L472.01,536.58 L472.21,535.57 L472.41,534.56 L472.61,533.54 L472.81,532.51 L473.01,531.49 L473.20,530.67 L473.40,529.85 L473.60,529.04 L473.79,528.27 L473.97,527.46 L474.16,526.64 L474.35,525.81 L474.54,525.02 L474.73,524.22 L474.91,523.41 L475.10,522.62 L475.29,521.82 L475.47,521.05 L475.65,520.27 L475.84,519.47 L476.01,518.71 L476.19,517.98 L476.36,517.29 L476.53,516.65 L476.70,516.06 L477.09,514.81 L477.45,513.76 L477.80,512.88 L478.14,512.14 L478.48,511.48 L478.83,510.87 L479.20,510.25 L479.90,509.34 L480.62,508.70 L481.34,507.90 L482.00,507.31 L482.73,507.88 L483.38,508.97 L484.10,509.39 L484.60,509.31 L485.12,508.85 L485.67,508.02 L486.23,506.93 L486.80,505.49 L486.93,505.04 L487.06,504.52 L487.19,503.94 L487.32,503.30 L487.46,502.54 L487.59,501.74 L487.72,500.91 L487.86,500.04 L487.99,499.15 L488.13,498.23 L488.26,497.30 L488.40,496.36 L488.54,495.41 L488.67,494.49 L488.81,493.59 L488.95,492.71 L489.09,491.83 L489.23,490.98 L489.37,490.15 L489.51,489.35 L489.66,488.59 L489.80,487.86 L489.98,486.90 L490.16,485.78 L490.34,484.63 L490.53,483.47 L490.71,482.30 L490.90,481.13 L491.09,479.97 L491.28,478.99 L491.47,478.26 L491.66,477.56 L491.85,476.90 L492.04,476.30 L492.23,475.75 L492.41,475.28 L492.59,474.78 L492.76,474.26 L492.93,473.84 L493.10,473.52 L493.46,473.15 L493.80,473.20 L494.13,473.73 L494.45,474.55 L494.76,475.62 L495.07,476.87 L495.38,478.20 L495.70,479.61 L495.82,480.16 L495.94,480.73 L496.06,481.33 L496.17,481.95 L496.29,482.59 L496.40,483.25 L496.51,483.85 L496.63,484.47 L496.74,485.11 L496.86,485.78 L496.97,486.48 L497.08,487.20 L497.20,487.95 L497.32,488.73 L497.44,489.54 L497.56,490.37 L497.68,491.23 L497.81,492.26 L497.94,493.34 L498.07,494.45 L498.20,495.60 L498.28,496.27 L498.36,496.97 L498.44,497.69 L498.52,498.42 L498.60,499.18 L498.68,499.96 L498.76,500.75 L498.85,501.56 L498.93,502.38 L499.01,503.20 L499.10,503.96 L499.19,504.72 L499.27,505.50 L499.36,506.29 L499.45,507.08 L499.54,507.88 L499.62,508.69 L499.71,509.49 L499.80,510.31 L499.89,511.12 L499.98,511.93 L500.07,512.74 L500.16,513.55 L500.25,514.36 L500.34,515.21 L500.43,516.11 L500.52,517.00 L500.61,517.89 L500.70,518.77 L500.78,519.63 L500.87,520.49 L500.96,521.34 L501.05,522.17 L501.14,522.98 L501.23,523.79 L501.31,524.57 L501.40,525.34 L501.51,526.31 L501.62,527.27 L501.73,528.23 L501.84,529.18 L501.95,530.13 L502.07,531.09 L502.18,532.03 L502.29,532.98 L502.40,533.91 L502.51,534.84 L502.62,535.76 L502.73,536.68 L502.85,537.58 L502.96,538.40 L503.07,539.14 L503.18,539.87 L503.29,540.59 L503.40,541.28 L503.51,541.97 L503.62,542.63 L503.73,543.27 L503.84,543.90 L503.95,544.50 L504.06,545.08 L504.17,545.64 L504.28,546.25 L504.39,546.86 L504.49,547.45 L504.60,548.01 L504.93,549.60 L505.22,550.90 L505.50,551.94 L505.78,552.66 L506.07,553.23 L506.39,553.70 L506.74,554.10 L507.14,554.64 L507.60,555.28 L508.20,556.00 L508.86,556.60 L509.57,557.13 L510.32,557.50 L511.12,558.31 L511.93,559.52 L512.76,559.80 L513.60,559.83 L514.37,559.61 L515.17,559.76 L516.00,560.00 L516.85,559.93 L517.71,559.75 L518.56,559.52 L519.40,559.36 L520.22,559.39 L521.00,559.62 L521.94,559.60 L522.82,559.49 L523.67,559.31 L524.51,559.49 L525.38,559.77 L526.30,560.13 L527.30,560.19 L528.05,560.01 L528.81,559.67 L529.60,559.98 L530.41,560.34 L531.24,560.61 L532.09,560.69 L532.96,560.64 L533.85,560.39 L534.77,559.84 L535.70,559.48 L536.45,559.72 L537.24,559.52 L538.06,559.11 L538.91,558.95 L539.77,558.90 L540.64,558.96 L541.51,559.02 L542.36,559.14 L543.20,559.30 L544.01,559.07 L544.79,558.79 L545.52,558.42 L546.20,558.46 L547.19,558.88 L548.06,558.78 L548.86,558.85 L549.59,559.02 L550.31,559.01 L551.03,558.96 L551.78,559.20 L552.60,559.28 L553.38,559.10 L554.20,559.18 L555.03,559.24 L555.88,558.76 L556.73,558.40 L557.58,558.14 L558.41,557.99 L559.22,557.89 L560.00,557.87 L560.84,558.16 L561.65,558.53 L562.44,558.86 L563.22,559.27 L563.99,559.70 L564.75,559.69 L565.52,559.80 L566.30,560.31 L567.26,560.62 L568.28,560.72 L569.33,560.60 L570.34,560.14 L571.26,559.36 L572.03,559.03 L572.60,559.47" fill="none" stroke="#000" stroke-width="1.4" stroke-linejoin="round" stroke-linecap="round" />
<text x="158.97" y="20.8" font-size="24.5" font-weight="normal" fill="#000" textLength="28.16" lengthAdjust="spacingAndGlyphs" >(a)</text>
<text x="431.09" y="19" font-size="24.5" font-weight="normal" fill="#000" textLength="29.83" lengthAdjust="spacingAndGlyphs" >(b)</text>
<text x="81.17" y="603.3" font-size="20.2" font-weight="normal" fill="#000" textLength="70.5" lengthAdjust="spacingAndGlyphs" >Binding</text>
<text x="156.25" y="603.3" font-size="20.2" font-weight="normal" fill="#000" textLength="63.79" lengthAdjust="spacingAndGlyphs" >Energy</text>
<text x="225.95" y="603.3" font-size="20.2" font-weight="normal" fill="#000" textLength="37.99" lengthAdjust="spacingAndGlyphs" >(eV)</text>
<text x="353.27" y="603.3" font-size="20.2" font-weight="normal" fill="#000" textLength="70.5" lengthAdjust="spacingAndGlyphs" >Binding</text>
<text x="428.35" y="603.3" font-size="20.2" font-weight="normal" fill="#000" textLength="63.79" lengthAdjust="spacingAndGlyphs" >Energy</text>
<text x="498.05" y="603.3" font-size="20.2" font-weight="normal" fill="#000" textLength="37.99" lengthAdjust="spacingAndGlyphs" >(eV)</text>
<text transform="translate(18,419.7) rotate(-90)" x="-1.74" y="0" font-size="21" font-weight="normal" textLength="242.16" lengthAdjust="spacingAndGlyphs">Normalised Intensity (a.u)</text>
<text transform="translate(599.4,175.4) rotate(90)" x="-1.73" y="0" font-size="21" font-weight="normal" textLength="250.53" lengthAdjust="spacingAndGlyphs">Normalised Intesnsity (a.u)</text></svg>
</body></html>
